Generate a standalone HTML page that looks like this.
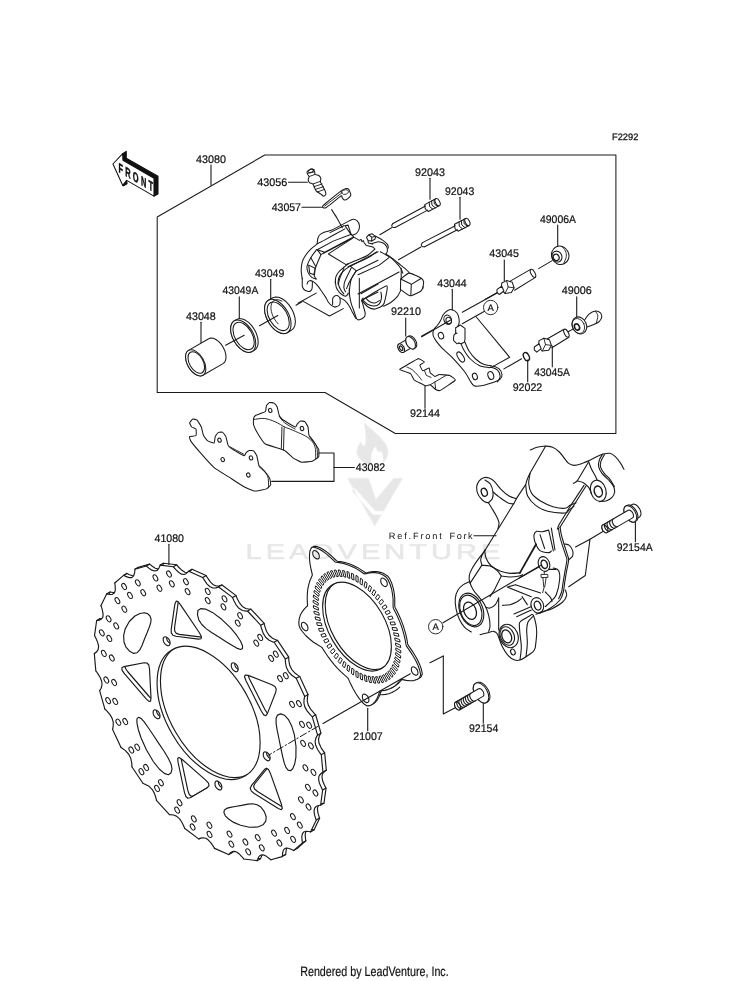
<!DOCTYPE html>
<html><head><meta charset="utf-8"><title>F2292</title>
<style>
html,body{margin:0;padding:0;background:#fff;}
svg{display:block;will-change:transform}
text{text-rendering:geometricPrecision}
.lb{font-family:"Liberation Sans",sans-serif;font-size:11px;fill:#111;stroke:#111;stroke-width:0.22}
.lb2{font-family:"Liberation Sans",sans-serif;font-size:9.3px;fill:#111;stroke:#111;stroke-width:0.25}
.mono{font-family:"Liberation Sans",sans-serif;font-size:9.2px;fill:#111;stroke:none}
.ft{font-family:"Liberation Sans",sans-serif;font-size:13.6px;fill:#111;stroke:#111;stroke-width:0.2}
</style></head><body>
<svg width="750" height="981" viewBox="0 0 750 981" fill="none" stroke="#1a1a1a" stroke-linecap="round" stroke-linejoin="round">
<rect x="0" y="0" width="750" height="981" fill="#fff" stroke="none"/>
<path d="M264.8,155.0 L615.9,155.0 L615.9,433.5 L395.3,433.5 L325.0,392.5 L157.2,392.5 L157.2,217.0 Z" fill="none" stroke-width="1.05" />
<text class="lb2" x="612.0" y="139.9" textLength="26.3" lengthAdjust="spacingAndGlyphs">F2292</text>
<text class="lb" x="196.0" y="162.7" textLength="30.0" lengthAdjust="spacingAndGlyphs">43080</text>
<line x1="211.0" y1="165.0" x2="211.0" y2="185.0" stroke-width="1.1" />
<text class="lb" x="257.3" y="186.0" textLength="30.0" lengthAdjust="spacingAndGlyphs">43056</text>
<line x1="288.5" y1="182.3" x2="307.3" y2="182.3" stroke-width="1.1" />
<text class="lb" x="271.7" y="211.0" textLength="29.3" lengthAdjust="spacingAndGlyphs">43057</text>
<line x1="302.0" y1="207.3" x2="324.0" y2="207.3" stroke-width="1.1" />
<text class="lb" x="255.0" y="276.7" textLength="29.3" lengthAdjust="spacingAndGlyphs">43049</text>
<line x1="270.7" y1="279.3" x2="270.7" y2="300.7" stroke-width="1.1" />
<text class="lb" x="222.6" y="294.2" textLength="35.7" lengthAdjust="spacingAndGlyphs">43049A</text>
<line x1="239.3" y1="296.7" x2="239.3" y2="319.3" stroke-width="1.1" />
<text class="lb" x="186.0" y="320.0" textLength="29.7" lengthAdjust="spacingAndGlyphs">43048</text>
<line x1="201.0" y1="322.3" x2="201.0" y2="345.0" stroke-width="1.1" />
<text class="lb" x="391.0" y="315.3" textLength="30.0" lengthAdjust="spacingAndGlyphs">92210</text>
<line x1="405.7" y1="318.0" x2="405.7" y2="336.0" stroke-width="1.1" />
<text class="lb" x="415.0" y="176.0" textLength="30.0" lengthAdjust="spacingAndGlyphs">92043</text>
<line x1="430.0" y1="178.3" x2="430.0" y2="199.3" stroke-width="1.1" />
<text class="lb" x="445.0" y="195.0" textLength="29.3" lengthAdjust="spacingAndGlyphs">92043</text>
<line x1="460.0" y1="197.3" x2="460.0" y2="219.3" stroke-width="1.1" />
<text class="lb" x="540.0" y="222.7" textLength="36.0" lengthAdjust="spacingAndGlyphs">49006A</text>
<line x1="557.7" y1="225.0" x2="557.7" y2="246.7" stroke-width="1.1" />
<text class="lb" x="489.3" y="257.3" textLength="29.7" lengthAdjust="spacingAndGlyphs">43045</text>
<line x1="504.3" y1="260.0" x2="504.3" y2="280.7" stroke-width="1.1" />
<text class="lb" x="437.3" y="286.7" textLength="29.4" lengthAdjust="spacingAndGlyphs">43044</text>
<line x1="452.3" y1="289.3" x2="452.3" y2="310.0" stroke-width="1.1" />
<text class="lb" x="561.7" y="294.3" textLength="30.0" lengthAdjust="spacingAndGlyphs">49006</text>
<line x1="576.7" y1="296.7" x2="576.7" y2="319.0" stroke-width="1.1" />
<text class="lb" x="534.3" y="375.7" textLength="35.7" lengthAdjust="spacingAndGlyphs">43045A</text>
<line x1="552.3" y1="346.0" x2="552.3" y2="366.7" stroke-width="1.1" />
<text class="lb" x="512.7" y="390.7" textLength="29.6" lengthAdjust="spacingAndGlyphs">92022</text>
<line x1="527.7" y1="360.0" x2="527.7" y2="381.7" stroke-width="1.1" />
<text class="lb" x="410.0" y="417.3" textLength="30.0" lengthAdjust="spacingAndGlyphs">92144</text>
<line x1="425.0" y1="385.0" x2="425.0" y2="408.3" stroke-width="1.1" />
<text class="lb" x="355.8" y="471.3" textLength="29.4" lengthAdjust="spacingAndGlyphs">43082</text>
<text class="lb" x="154.6" y="541.9" textLength="29.4" lengthAdjust="spacingAndGlyphs">41080</text>
<text class="lb" x="353.3" y="740.0" textLength="29.4" lengthAdjust="spacingAndGlyphs">21007</text>
<line x1="367.7" y1="708.3" x2="367.7" y2="730.7" stroke-width="1.1" />
<text class="lb" x="469.0" y="732.3" textLength="29.3" lengthAdjust="spacingAndGlyphs">92154</text>
<line x1="483.3" y1="701.7" x2="483.3" y2="723.3" stroke-width="1.1" />
<text class="lb" x="616.7" y="550.7" textLength="36.0" lengthAdjust="spacingAndGlyphs">92154A</text>
<line x1="635.4" y1="521.5" x2="635.4" y2="541.7" stroke-width="1.1" />
<text class="mono" x="388.8" y="538.9" textLength="53.0" lengthAdjust="spacing">Ref.Front</text>
<text class="mono" x="449.6" y="538.9" textLength="23.0" lengthAdjust="spacing">Fork</text>
<line x1="474.0" y1="535.7" x2="496.0" y2="535.7" stroke-width="1.1" />
<circle cx="490.7" cy="307.5" r="7.2" fill="#fff" stroke-width="0.9"/>
<text class="lb" x="490.7" y="310.9" text-anchor="middle" style="font-size:9.5px">A</text>
<circle cx="435.7" cy="626.7" r="7.2" fill="#fff" stroke-width="0.9"/>
<text class="lb" x="435.7" y="630.1" text-anchor="middle" style="font-size:9.5px">A</text>
<text class="ft" x="300.2" y="976.2" textLength="148.5" lengthAdjust="spacingAndGlyphs">Rendered by LeadVenture, Inc.</text>
<g transform="translate(100,140) scale(0.13333)" stroke-width="8">
<path d="M170,103 L197,85 L197,137 L435,272 L435,405 L405,421 L405,287 L172,152 Z" fill="#111" stroke="#111"/>
<path d="M170,340 L200,303 L203,328 L176,344 Z" fill="#111" stroke="#111"/>
<path d="M97,180 L170,103 L172,152 L405,287 L405,421 L200,303 L170,340 Z" fill="#fff" stroke="#111"/>
</g>
<g transform="translate(118.4,171.9) skewY(30)"><text x="0" y="0" textLength="63" lengthAdjust="spacing" style="font-family:'Liberation Sans',sans-serif;font-weight:bold;font-size:13.5px;fill:#111;stroke:#111;stroke-width:0.5" transform="scale(0.55,1)">FRONT</text></g>
<g stroke-width="1.15">
<path d="M322.3,774.6 L322,777.2 322.7,781 324.4,784.9 326,788.3 324,803.1 322.3,803.5 319.8,804.3 318,806.1 317.4,809.1 318,813.2 319.6,818.3 314,829.9 312.1,829.6 309.2,829.3 307.1,830 305.7,832 305.2,834.7 305.4,837.6 305.8,840.9 297.1,848.5 295,847.6 292.5,846.5 290.4,846 288.4,846.4 286.9,847.9 286.1,850.5 285.7,854.1 285.6,854.7 274.3,857.8 272.3,856.3 269.8,854.4 267.6,853.2 265.3,852.8 263.4,853.5 261.9,855.3 260.7,858.3 260.4,858.7 247.4,857.1 244.9,854.4 242.6,852 240,850.1 237.7,849.4 235.5,849.7 233.5,851.1 231.9,852.6 218,846.4 215.9,843.2 213.9,840.4 211.5,837.9 209.1,836.3 206.7,835.8 204.1,836.2 202,836.9 188.2,826.5 186.6,823.1 185.1,820 183,816.9 180.2,814.4 177.1,813.1 173.4,812.7 172.8,812.6 160,798.7 159.1,795.3 157.8,791.4 155.7,787.6 152.5,784.4 148.3,782.2 146.3,781.3 135.4,765 135.1,760.9 134.2,756.6 132.1,752.3 128.8,748.7 124.9,745.8 124.3,745.3 116,727.5 116.6,724 116.6,720.1 115.5,716.4 113.4,712.7 110.1,708.9 108.2,706.9 103.1,688.9 104.5,686.3 105.4,683 105.1,679.5 103.6,675.6 100.9,671.2 99.2,668.8 97.7,651.9 99.8,650.1 101.5,647.7 102,644.7 101.2,640.9 99.2,636.1 97.9,633.6 100,618.8 102.7,618.2 104.9,617.1 106.3,614.9 106.5,612.2 105.5,607.1 104.4,603.6 110,592 113.1,592.5 115.7,592.4 117.7,591.1 118.7,588.4 118.5,583.5 118.2,581 126.9,573.4 129.6,574.7 132.6,575.7 135.2,575.7 137,574 138,570.8 138.4,567.2 149.6,564.1 152.3,566.2 155.3,568.2 158.2,569.1 160.6,568.4 162.3,566.1 163.6,563.2 176.6,564.8 179,567.5 181.9,570.3 184.9,572.2 187.6,572.5 189.7,571.5 192.1,569.3 206,575.5 208.1,578.7 210.5,582.1 213.4,584.8 216.3,586 219.3,585.9 222,585 235.8,595.4 237.3,598.8 239.3,602.6 242.3,606.4 245.8,608.5 249.9,609.2 251.1,609.3 264,623.2 264.9,626.6 266.5,631.2 269,635.3 272.5,638.3 276.3,640 277.7,640.6 288.6,656.9 288.9,661 289.7,665.3 291.8,669.6 295.2,673.3 299.1,676.1 299.7,676.6 308,694.4 307.4,697.9 307.3,701.2 308.2,704.9 310.6,709.2 314.5,713.7 315.7,715 320.9,733 319.4,735.7 318.5,739.5 319,743.1 321.1,747.8 324.3,752.4 324.7,753.1 326.3,770 324.2,771.8 322.9,773.3Z" fill="#fff"/>
<path d="M160.0,565.1 L163.4,563.2 M173.4,566.8 L176.8,564.8 M188.5,571.2 L191.9,569.2 M202.8,577.5 L206.2,575.6 M218.4,586.8 L221.8,584.9 M232.6,597.5 L236.0,595.5 M247.6,611.1 L250.9,609.1 M260.8,625.3 L264.1,623.4 M274.1,642.3 L277.5,640.3 M285.4,659.1 L288.7,657.2 M296.2,678.3 L299.6,676.4 M304.7,696.6 L308.1,694.6 M312.3,716.7 L315.7,714.7 M317.5,735.2 L320.9,733.2 M321.3,754.8 L324.7,752.8 M322.9,772.2 L326.3,770.3 M322.7,790.1 L326.0,788.1 M320.5,805.2 L323.9,803.3 M316.3,820.1 L319.6,818.1 M310.5,832.0 L313.9,830.0 M302.5,842.7 L305.9,840.8 M293.5,850.6 L296.9,848.6 M282.3,856.6 L285.7,854.6 M270.8,859.8 L274.2,857.9 M257.2,860.7 L260.5,858.7 M243.8,859.0 L247.2,857.1 M228.7,854.6 L232.1,852.7 M214.4,848.3 L217.8,846.3 M198.8,839.0 L202.2,837.0 M184.6,828.3 L188.0,826.4 M169.6,814.7 L173.0,812.8 M156.4,800.5 L159.8,798.5 M143.1,783.5 L146.5,781.6 M131.8,766.7 L135.2,764.7 M121.0,747.5 L124.4,745.5 M112.5,729.2 L115.9,727.3 M104.9,709.1 L108.3,707.2 M99.7,690.6 L103.0,688.7 M95.9,671.0 L99.3,669.1 M94.3,653.6 L97.6,651.6 M94.5,635.7 L97.9,633.8 M96.7,620.6 L100.0,618.6 M100.9,605.7 L104.3,603.8 M106.7,593.8 L110.1,591.9 M114.7,583.1 L118.1,581.1 M123.7,575.2 L127.0,573.3 M134.9,569.2 L138.2,567.3 M146.4,566.0 L149.8,564.0"/>
<g transform="translate(-3.38,1.95)"><path d="M322.3,774.6 L322,777.2 322.7,781 324.4,784.9 326,788.3 324,803.1 322.3,803.5 319.8,804.3 318,806.1 317.4,809.1 318,813.2 319.6,818.3 314,829.9 312.1,829.6 309.2,829.3 307.1,830 305.7,832 305.2,834.7 305.4,837.6 305.8,840.9 297.1,848.5 295,847.6 292.5,846.5 290.4,846 288.4,846.4 286.9,847.9 286.1,850.5 285.7,854.1 285.6,854.7 274.3,857.8 272.3,856.3 269.8,854.4 267.6,853.2 265.3,852.8 263.4,853.5 261.9,855.3 260.7,858.3 260.4,858.7 247.4,857.1 244.9,854.4 242.6,852 240,850.1 237.7,849.4 235.5,849.7 233.5,851.1 231.9,852.6 218,846.4 215.9,843.2 213.9,840.4 211.5,837.9 209.1,836.3 206.7,835.8 204.1,836.2 202,836.9 188.2,826.5 186.6,823.1 185.1,820 183,816.9 180.2,814.4 177.1,813.1 173.4,812.7 172.8,812.6 160,798.7 159.1,795.3 157.8,791.4 155.7,787.6 152.5,784.4 148.3,782.2 146.3,781.3 135.4,765 135.1,760.9 134.2,756.6 132.1,752.3 128.8,748.7 124.9,745.8 124.3,745.3 116,727.5 116.6,724 116.6,720.1 115.5,716.4 113.4,712.7 110.1,708.9 108.2,706.9 103.1,688.9 104.5,686.3 105.4,683 105.1,679.5 103.6,675.6 100.9,671.2 99.2,668.8 97.7,651.9 99.8,650.1 101.5,647.7 102,644.7 101.2,640.9 99.2,636.1 97.9,633.6 100,618.8 102.7,618.2 104.9,617.1 106.3,614.9 106.5,612.2 105.5,607.1 104.4,603.6 110,592 113.1,592.5 115.7,592.4 117.7,591.1 118.7,588.4 118.5,583.5 118.2,581 126.9,573.4 129.6,574.7 132.6,575.7 135.2,575.7 137,574 138,570.8 138.4,567.2 149.6,564.1 152.3,566.2 155.3,568.2 158.2,569.1 160.6,568.4 162.3,566.1 163.6,563.2 176.6,564.8 179,567.5 181.9,570.3 184.9,572.2 187.6,572.5 189.7,571.5 192.1,569.3 206,575.5 208.1,578.7 210.5,582.1 213.4,584.8 216.3,586 219.3,585.9 222,585 235.8,595.4 237.3,598.8 239.3,602.6 242.3,606.4 245.8,608.5 249.9,609.2 251.1,609.3 264,623.2 264.9,626.6 266.5,631.2 269,635.3 272.5,638.3 276.3,640 277.7,640.6 288.6,656.9 288.9,661 289.7,665.3 291.8,669.6 295.2,673.3 299.1,676.1 299.7,676.6 308,694.4 307.4,697.9 307.3,701.2 308.2,704.9 310.6,709.2 314.5,713.7 315.7,715 320.9,733 319.4,735.7 318.5,739.5 319,743.1 321.1,747.8 324.3,752.4 324.7,753.1 326.3,770 324.2,771.8 322.9,773.3Z" fill="#fff"/></g>
<defs>
<marker id="hm" markerUnits="userSpaceOnUse" markerWidth="10" markerHeight="10" refX="7.38" refY="6.37" overflow="visible"><ellipse cx="5" cy="5" rx="1.95" ry="3.36" transform="rotate(-30 5 5)" fill="#fff" stroke="#1a1a1a" stroke-width="1"/></marker>
<clipPath id="dc1"><path d="M260.13,742.65 C260.13,775.51 237.06,788.83 208.60,772.40 C180.14,755.97 157.07,716.01 157.07,683.15 C157.07,650.29 180.14,636.97 208.60,653.40 C237.06,669.83 260.13,709.79 260.13,742.65Z"/></clipPath>
<clipPath id="dc2"><path d="M170.11,643.24 C170.11,645.45 168.56,646.35 166.65,645.24 C164.74,644.14 163.18,641.45 163.18,639.24 C163.18,637.03 164.74,636.14 166.65,637.24 C168.56,638.35 170.11,641.03 170.11,643.24Z"/></clipPath>
<clipPath id="dc3"><path d="M180.4,604.6 L178,601.6 176.3,601 174.9,603.9 171.2,629.3 171.3,632.9 172.9,635.3 175.9,636.3 198.5,639.1 201.1,638.7 201.4,636.6 199.4,632.8z"/></clipPath>
<clipPath id="dc5"><path d="M238.17,669.24 C238.17,671.45 236.62,672.35 234.71,671.24 C232.79,670.14 231.24,667.45 231.24,665.24 C231.24,663.03 232.79,662.14 234.71,663.24 C236.62,664.35 238.17,667.03 238.17,669.24Z"/></clipPath>
<clipPath id="dc6"><path d="M275.7,692.2 L276.2,689.1 274.9,686.6 271.9,684.7 248.1,675.4 245.2,675 244.5,676.8 246,680.7 261.4,711.3 263.8,714.9 265.8,715.7 267.4,713.6z"/></clipPath>
<clipPath id="dc8"><path d="M270.15,758.34 C270.15,760.55 268.60,761.45 266.69,760.34 C264.77,759.24 263.22,756.55 263.22,754.34 C263.22,752.13 264.77,751.24 266.69,752.34 C268.60,753.45 270.15,756.13 270.15,758.34Z"/></clipPath>
<clipPath id="dc9"><path d="M278.3,808.5 L281.3,809.7 282.3,808.3 281.5,804.5 270.4,773.4 268.5,769.5 266.5,768.2 264.4,769.6 251.4,785.7 250.2,788.3 251.2,790.9 254.2,793.5z"/></clipPath>
<clipPath id="dc11"><path d="M221.86,787.40 C221.86,789.61 220.31,790.51 218.39,789.40 C216.48,788.30 214.93,785.61 214.93,783.40 C214.93,781.19 216.48,780.30 218.39,781.40 C220.31,782.51 221.86,785.19 221.86,787.40Z"/></clipPath>
<clipPath id="dc12"><path d="M184.5,792.6 L185.9,796.5 187.8,798.2 190.3,797.7 207.3,787.7 209,785.8 208.5,783.2 205.7,780.1 182.2,759.5 179.1,757.5 177.7,758.3 178,762z"/></clipPath>
<clipPath id="dc14"><path d="M160.03,716.27 C160.03,718.48 158.48,719.37 156.57,718.27 C154.65,717.16 153.10,714.48 153.10,712.27 C153.10,710.06 154.65,709.16 156.57,710.27 C158.48,711.37 160.03,714.06 160.03,716.27Z"/></clipPath>
<clipPath id="dc15"><path d="M124.1,666.6 L121.9,667.8 122,670.2 124.4,673.7 146,698.7 148.9,701.4 150.6,701.1 151,697.8 149.5,668.9 148.8,665 147,663 144.1,662.7z"/></clipPath>
</defs>
<path d="M260.13,742.65 C260.13,775.51 237.06,788.83 208.60,772.40 C180.14,755.97 157.07,716.01 157.07,683.15 C157.07,650.29 180.14,636.97 208.60,653.40 C237.06,669.83 260.13,709.79 260.13,742.65Z" fill="#fff"/>
<path d="M263.51,740.70 C263.51,773.56 240.44,786.88 211.98,770.45 C183.52,754.02 160.45,714.06 160.45,681.20 C160.45,648.34 183.52,635.02 211.98,651.45 C240.44,667.88 263.51,707.84 263.51,740.70Z" clip-path="url(#dc1)"/>
<path d="M170.11,643.24 C170.11,645.45 168.56,646.35 166.65,645.24 C164.74,644.14 163.18,641.45 163.18,639.24 C163.18,637.03 164.74,636.14 166.65,637.24 C168.56,638.35 170.11,641.03 170.11,643.24Z" fill="#fff"/>
<path d="M173.49,641.29 C173.49,643.50 171.94,644.40 170.03,643.29 C168.11,642.19 166.56,639.50 166.56,637.29 C166.56,635.08 168.11,634.19 170.03,635.29 C171.94,636.40 173.49,639.08 173.49,641.29Z" clip-path="url(#dc2)"/>
<path d="M180.4,604.6 L178,601.6 176.3,601 174.9,603.9 171.2,629.3 171.3,632.9 172.9,635.3 175.9,636.3 198.5,639.1 201.1,638.7 201.4,636.6 199.4,632.8z" fill="#fff"/>
<g clip-path="url(#dc3)"><path transform="translate(3.38,-1.95)" d="M180.4,604.6 L178,601.6 176.3,601 174.9,603.9 171.2,629.3 171.3,632.9 172.9,635.3 175.9,636.3 198.5,639.1 201.1,638.7 201.4,636.6 199.4,632.8z"/></g>
<path d="M150,616 L147.6,613.6 144.3,612.8 139.9,613.5 134.9,616 129.3,621.5 125.2,628.9 123.6,635.7 124,642 126,647.2 129.7,651.3 133.7,653.4 136.9,652.8 139.6,650.2 141.9,645.7 144.5,639 147.3,632.3 149.3,627.1 150.7,622.8 151.1,619.2z" fill="#fff"/>
<path d="M238.17,669.24 C238.17,671.45 236.62,672.35 234.71,671.24 C232.79,670.14 231.24,667.45 231.24,665.24 C231.24,663.03 232.79,662.14 234.71,663.24 C236.62,664.35 238.17,667.03 238.17,669.24Z" fill="#fff"/>
<path d="M241.55,667.29 C241.55,669.50 240.00,670.40 238.08,669.29 C236.17,668.19 234.62,665.50 234.62,663.29 C234.62,661.08 236.17,660.19 238.08,661.29 C240.00,662.40 241.55,665.08 241.55,667.29Z" clip-path="url(#dc5)"/>
<path d="M275.7,692.2 L276.2,689.1 274.9,686.6 271.9,684.7 248.1,675.4 245.2,675 244.5,676.8 246,680.7 261.4,711.3 263.8,714.9 265.8,715.7 267.4,713.6z" fill="#fff"/>
<g clip-path="url(#dc6)"><path transform="translate(3.38,-1.95)" d="M275.7,692.2 L276.2,689.1 274.9,686.6 271.9,684.7 248.1,675.4 245.2,675 244.5,676.8 246,680.7 261.4,711.3 263.8,714.9 265.8,715.7 267.4,713.6z"/></g>
<path d="M242.5,648.6 L242.5,645.7 240.6,641.3 236.6,635.2 230.6,627.9 221.7,619.3 212.4,612.4 205.5,609.1 200.6,608.6 197.9,610.5 197.5,614.9 198.9,620.1 201.8,624.5 206.1,628.6 211.6,632.5 219.2,637.2 226.9,642.2 232.8,645.8 237.4,648.4 240.6,649.5z" fill="#fff"/>
<path d="M270.15,758.34 C270.15,760.55 268.60,761.45 266.69,760.34 C264.77,759.24 263.22,756.55 263.22,754.34 C263.22,752.13 264.77,751.24 266.69,752.34 C268.60,753.45 270.15,756.13 270.15,758.34Z" fill="#fff"/>
<path d="M273.53,756.39 C273.53,758.60 271.98,759.50 270.06,758.39 C268.15,757.29 266.60,754.60 266.60,752.39 C266.60,750.18 268.15,749.29 270.06,750.39 C271.98,751.50 273.53,754.18 273.53,756.39Z" clip-path="url(#dc8)"/>
<path d="M278.3,808.5 L281.3,809.7 282.3,808.3 281.5,804.5 270.4,773.4 268.5,769.5 266.5,768.2 264.4,769.6 251.4,785.7 250.2,788.3 251.2,790.9 254.2,793.5z" fill="#fff"/>
<g clip-path="url(#dc9)"><path transform="translate(3.38,-1.95)" d="M278.3,808.5 L281.3,809.7 282.3,808.3 281.5,804.5 270.4,773.4 268.5,769.5 266.5,768.2 264.4,769.6 251.4,785.7 250.2,788.3 251.2,790.9 254.2,793.5z"/></g>
<path d="M288.1,770.1 L290.5,770.7 292.7,768.7 294.6,764.3 295.9,757.3 296,746.5 294.4,734.8 291.7,725.9 288.3,719.3 284.6,715.3 280.6,713.9 277.5,715.1 276.1,718.3 276.1,723.5 277.2,730.4 279.2,740 281.2,749.8 282.8,757.2 284.3,763.1 285.9,767.4z" fill="#fff"/>
<path d="M221.86,787.40 C221.86,789.61 220.31,790.51 218.39,789.40 C216.48,788.30 214.93,785.61 214.93,783.40 C214.93,781.19 216.48,780.30 218.39,781.40 C220.31,782.51 221.86,785.19 221.86,787.40Z" fill="#fff"/>
<path d="M225.23,785.45 C225.23,787.66 223.68,788.56 221.77,787.45 C219.86,786.35 218.31,783.66 218.31,781.45 C218.31,779.24 219.86,778.35 221.77,779.45 C223.68,780.56 225.23,783.24 225.23,785.45Z" clip-path="url(#dc11)"/>
<path d="M184.5,792.6 L185.9,796.5 187.8,798.2 190.3,797.7 207.3,787.7 209,785.8 208.5,783.2 205.7,780.1 182.2,759.5 179.1,757.5 177.7,758.3 178,762z" fill="#fff"/>
<g clip-path="url(#dc12)"><path transform="translate(3.38,-1.95)" d="M184.5,792.6 L185.9,796.5 187.8,798.2 190.3,797.7 207.3,787.7 209,785.8 208.5,783.2 205.7,780.1 182.2,759.5 179.1,757.5 177.7,758.3 178,762z"/></g>
<path d="M223.9,812.5 L225.3,815.8 228.6,819 233.7,822.4 240.5,825.3 249.5,827.3 257.9,827 263,824.8 265.8,821.2 266.2,816.8 264.3,811.6 260.9,807.1 257.1,804.7 252.8,803.8 248,804.1 241.7,805.4 235.2,806.5 230.3,807.4 226.6,808.4 224.4,809.9z" fill="#fff"/>
<path d="M160.03,716.27 C160.03,718.48 158.48,719.37 156.57,718.27 C154.65,717.16 153.10,714.48 153.10,712.27 C153.10,710.06 154.65,709.16 156.57,710.27 C158.48,711.37 160.03,714.06 160.03,716.27Z" fill="#fff"/>
<path d="M163.41,714.32 C163.41,716.53 161.86,717.42 159.94,716.32 C158.03,715.21 156.48,712.53 156.48,710.32 C156.48,708.11 158.03,707.21 159.94,708.32 C161.86,709.42 163.41,712.11 163.41,714.32Z" clip-path="url(#dc14)"/>
<path d="M124.1,666.6 L121.9,667.8 122,670.2 124.4,673.7 146,698.7 148.9,701.4 150.6,701.1 151,697.8 149.5,668.9 148.8,665 147,663 144.1,662.7z" fill="#fff"/>
<g clip-path="url(#dc15)"><path transform="translate(3.38,-1.95)" d="M124.1,666.6 L121.9,667.8 122,670.2 124.4,673.7 146,698.7 148.9,701.4 150.6,701.1 151,697.8 149.5,668.9 148.8,665 147,663 144.1,662.7z"/></g>
<path d="M138.5,717.3 L137,718.7 136.9,722.7 138.2,729.2 141.1,738 146.5,750 153.3,761.5 159.2,769 164.3,773.4 168.3,774.7 171,772.9 172,769 171.1,764.2 168.4,758.5 164.4,751.8 158.4,742.9 152.4,733.8 147.8,727 144,721.7 141,718.4z" fill="#fff"/>
<path fill="none" stroke="none" marker-start="url(#hm)" marker-mid="url(#hm)" marker-end="url(#hm)" d="M171.4,575.4 L174.2,585.2 157.8,579.3 161.8,589.6 140.2,584.2 145.6,594.1 226.9,600.2 225.8,608.2 210.1,592.8 210.1,602 188.3,583.1 190,593 278.2,655.5 273.5,659.7 262.6,638.8 258.7,644.5 242.5,617.1 240.1,624.5 311.5,726.6 304.4,725.7 301.3,705 294.4,705.7 288.2,677.1 282.4,680 317.8,794.4 310.3,788.7 315.8,773.7 307.8,769.2 313.3,747.2 305.5,744.7 295.5,840.7 289.5,831.8 302.2,826.5 295.3,818 310.9,808.4 303.3,801.2 250.6,853.2 247.8,843.4 264.2,849.2 260.1,839 281.8,844.4 276.4,834.5 195,828.4 196.2,820.3 211.9,835.8 211.8,826.6 233.7,845.5 231.9,835.5 143.8,773.1 148.5,768.9 159.4,789.8 163.3,784.1 179.5,811.5 181.9,804.1 110.5,702 117.6,702.8 120.7,723.6 127.6,722.9 133.7,751.4 139.6,748.6 104.2,634.2 111.7,639.8 106.2,654.8 114.2,659.4 108.7,681.4 116.5,683.9 126.5,587.9 132.4,596.8 119.8,602 126.7,610.6 111,620.2 118.6,627.3"/>
</g>
<line x1="168.9" y1="544.3" x2="168.9" y2="564.5" stroke-width="1.1" />
<g stroke-width="1.10">
<path d="M399.7,687.1 L397.3,689.3 394.7,691.1 391.8,692.6 388.8,693.7 385.6,694.4 382.2,694.8 378.7,694.7 375.1,694.4"/>
<g transform="translate(1.65,-0.95)"><path d="M415.7,660.5 L418.1,665.6 419.8,670.5 420.7,675 419.3,677.9 416.8,679.6 413.7,680.6 410.1,680.8 406.3,680.4 402.5,679.6 401.3,679.4 400.6,679.6 399.2,681.5 397.3,683.7 395.2,685.6 392.8,687.2 390.3,688.6 387.7,689.6 384.9,690.4 381.9,690.8 380.4,690.9 379.8,691.3 378.5,694.9 377,698.5 375.1,701.6 372.8,704 370.1,705.6 367.1,705.9 364.8,704.6 362.5,702.5 359.1,698.4 356,693.8 353.1,688.8 350.5,683.6 348.3,678.6 347.5,677.6 344.1,674.7 340.8,671.6 337.5,668.3 334.4,664.8 331.4,661.1 328.4,657.2 325.7,653.2 323,649.1 322.4,648 321.5,647.1 317.6,644.8 313.5,642.2 309.5,639 305.7,635.5 302.3,631.5 300.4,628.7 299.1,625.8 298.8,622.9 299.2,618.9 300.3,615.1 302.1,611.9 304.2,609.1 306.6,606.7 307.3,606 307.6,605.1 307.3,601.9 307.2,597.9 307.4,593 307.8,589.2 308.7,584.8 309.9,580.7 311.5,577 312.2,575.6 312.3,574.5 311.1,569.5 310.1,564.4 309.5,559.3 309.5,554.7 310,550.7 311.4,547.7 312.2,547.2 314.4,547.3 318,548.5 322,550.7 326,553.6 330,557.1 333.8,560.7 335,561.9 336,562.3 339.2,562.6 343.3,563.4 347.5,564.7 351.8,566.4 356.1,568.6 360.5,571.3 363.9,573.7 364.9,573.9 368,573.1 371.5,572.6 375.1,572.6 378.9,573.3 382.7,574.8 386.3,577.2 388.1,579.8 390.2,584.5 391.7,589.5 392.6,594.6 393.1,599.5 393.1,604.3 393.1,607.2 393.4,608.4 395.7,612.8 397.8,617.2 399.7,621.6 401.4,626.1 402.8,630.6 404.1,635.1 405.1,639.5 405.9,643.9 406,644.9 406.5,646.1 409.7,650.6 412.8,655.5z" fill="#fff"/></g>
<path d="M415.7,660.5 L418.1,665.6 419.8,670.5 420.7,675 419.3,677.9 416.8,679.6 413.7,680.6 410.1,680.8 406.3,680.4 402.5,679.6 401.3,679.4 400.6,679.6 399.2,681.5 397.3,683.7 395.2,685.6 392.8,687.2 390.3,688.6 387.7,689.6 384.9,690.4 381.9,690.8 380.4,690.9 379.8,691.3 378.5,694.9 377,698.5 375.1,701.6 372.8,704 370.1,705.6 367.1,705.9 364.8,704.6 362.5,702.5 359.1,698.4 356,693.8 353.1,688.8 350.5,683.6 348.3,678.6 347.5,677.6 344.1,674.7 340.8,671.6 337.5,668.3 334.4,664.8 331.4,661.1 328.4,657.2 325.7,653.2 323,649.1 322.4,648 321.5,647.1 317.6,644.8 313.5,642.2 309.5,639 305.7,635.5 302.3,631.5 300.4,628.7 299.1,625.8 298.8,622.9 299.2,618.9 300.3,615.1 302.1,611.9 304.2,609.1 306.6,606.7 307.3,606 307.6,605.1 307.3,601.9 307.2,597.9 307.4,593 307.8,589.2 308.7,584.8 309.9,580.7 311.5,577 312.2,575.6 312.3,574.5 311.1,569.5 310.1,564.4 309.5,559.3 309.5,554.7 310,550.7 311.4,547.7 312.2,547.2 314.4,547.3 318,548.5 322,550.7 326,553.6 330,557.1 333.8,560.7 335,561.9 336,562.3 339.2,562.6 343.3,563.4 347.5,564.7 351.8,566.4 356.1,568.6 360.5,571.3 363.9,573.7 364.9,573.9 368,573.1 371.5,572.6 375.1,572.6 378.9,573.3 382.7,574.8 386.3,577.2 388.1,579.8 390.2,584.5 391.7,589.5 392.6,594.6 393.1,599.5 393.1,604.3 393.1,607.2 393.4,608.4 395.7,612.8 397.8,617.2 399.7,621.6 401.4,626.1 402.8,630.6 404.1,635.1 405.1,639.5 405.9,643.9 406,644.9 406.5,646.1 409.7,650.6 412.8,655.5z" fill="#fff"/>
<defs><clipPath id="rc0"><path d="M391.38,646.45 C391.38,668.38 375.99,677.26 357.00,666.30 C338.01,655.34 322.62,628.68 322.62,606.75 C322.62,584.82 338.01,575.94 357.00,586.90 C375.99,597.86 391.38,624.52 391.38,646.45Z"/></clipPath></defs>
<path d="M391.38,646.45 C391.38,668.38 375.99,677.26 357.00,666.30 C338.01,655.34 322.62,628.68 322.62,606.75 C322.62,584.82 338.01,575.94 357.00,586.90 C375.99,597.86 391.38,624.52 391.38,646.45Z" fill="#fff"/><path d="M393.98,644.95 C393.98,666.88 378.59,675.76 359.60,664.80 C340.61,653.84 325.22,627.18 325.22,605.25 C325.22,583.32 340.61,574.44 359.60,585.40 C378.59,596.36 393.98,623.02 393.98,644.95Z" clip-path="url(#rc0)"/>
<path d="M417.95,672.93 C417.95,675.03 416.47,675.88 414.66,674.83 C412.84,673.78 411.36,671.23 411.36,669.13 C411.36,667.03 412.84,666.18 414.66,667.23 C416.47,668.28 417.95,670.83 417.95,672.93Z" fill="#fff"/>
<path d="M368.93,700.25 C368.93,702.35 367.46,703.20 365.64,702.15 C363.82,701.10 362.35,698.55 362.35,696.45 C362.35,694.35 363.82,693.50 365.64,694.55 C367.46,695.60 368.93,698.15 368.93,700.25Z" fill="#fff"/>
<path d="M307.98,628.41 C307.98,630.51 306.50,631.36 304.69,630.31 C302.87,629.26 301.39,626.71 301.39,624.61 C301.39,622.52 302.87,621.66 304.69,622.71 C306.50,623.76 307.98,626.32 307.98,628.41Z" fill="#fff"/>
<path d="M319.32,556.70 C319.32,558.80 317.84,559.65 316.03,558.60 C314.21,557.55 312.74,555.00 312.74,552.90 C312.74,550.80 314.21,549.95 316.03,551.00 C317.84,552.05 319.32,554.60 319.32,556.70Z" fill="#fff"/>
<path d="M387.28,584.21 C387.28,586.31 385.81,587.16 383.99,586.11 C382.17,585.06 380.70,582.51 380.70,580.41 C380.70,578.31 382.17,577.46 383.99,578.51 C385.81,579.56 387.28,582.11 387.28,584.21Z" fill="#fff"/>
<path stroke-width="1.0" d="M396.2,648 400.8,650.7 400.8,653.1 396.2,650.5z M396.1,652.7 400.7,655.9 400.5,658.2 395.9,655z M395.6,657.1 400.1,660.8 399.6,662.9 395.1,659.3z M394.6,661.1 399,665.3 398.3,667.3 394,663.1z M393.3,664.8 397.5,669.4 396.6,671.1 392.4,666.6z M391.5,668.1 395.5,673.1 394.4,674.6 390.4,669.6z M389.4,670.9 393.1,676.2 391.8,677.4 388.1,672.2z M386.9,673.2 390.3,678.8 388.9,679.7 385.4,674.2z M384.1,675 387.1,680.8 385.5,681.5 382.4,675.8z M380.9,676.3 383.6,682.2 381.9,682.6 379.2,676.8z M377.6,677.1 379.8,683 378,683.1 375.7,677.2z M374,677.2 375.8,683.2 373.9,683 372,677.1z M370.2,676.9 371.5,682.7 369.5,682.3 368.1,676.5z M366.2,676 367.1,681.7 365.1,681 364.1,675.3z M362.2,674.5 362.6,680 360.5,679.1 360,673.5z M358.1,672.5 358.1,677.8 356,676.6 355.9,671.3z M354,670 353.5,675 351.4,673.5 351.8,668.5z M349.9,667.1 348.9,671.7 346.9,670 347.8,665.3z M345.9,663.7 344.5,667.9 342.5,665.9 343.8,661.7z M342.1,659.9 340.1,663.6 338.2,661.5 340.1,657.7z M338.3,655.7 336,658.9 334.2,656.6 336.5,653.3z M334.8,651.2 332.1,653.9 330.4,651.5 333.1,648.7z M331.6,646.4 328.5,648.5 326.9,646 330,643.8z M328.6,641.4 325.2,643 323.7,640.3 327.1,638.7z M325.9,636.3 322.2,637.2 320.9,634.5 324.6,633.5z M323.6,631 319.6,631.4 318.5,628.6 322.5,628.2z M321.6,625.7 317.4,625.4 316.6,622.7 320.7,622.9z M320,620.5 315.7,619.5 315,616.8 319.4,617.7z M318.9,615.2 314.4,613.7 313.9,611.1 318.4,612.5z M318.1,610.1 313.5,608 313.3,605.5 317.9,607.5z M317.8,605.2 313.2,602.5 313.2,600.1 317.8,602.7z M317.9,600.5 313.3,597.3 313.5,595 318.1,598.2z M318.4,596.1 313.9,592.4 314.4,590.3 318.9,593.9z M319.4,592.1 315,587.9 315.7,585.9 320,590.1z M320.7,588.4 316.6,583.8 317.4,582.1 321.6,586.6z M322.5,585.1 318.5,580.2 319.6,578.7 323.6,583.6z M324.6,582.3 320.9,577 322.2,575.8 325.9,581z M327.1,580 323.7,574.5 325.2,573.5 328.6,579z M330,578.2 326.9,572.5 328.5,571.7 331.6,577.4z M333.1,576.9 330.4,571 332.1,570.6 334.8,576.4z M336.5,576.2 334.2,570.2 336,570.1 338.3,576z M340.1,576 338.2,570 340.1,570.2 342.1,576.1z M343.8,576.3 342.5,570.5 344.5,570.9 345.9,576.8z M347.8,577.3 346.9,571.5 348.9,572.2 349.9,578z M351.8,578.7 351.4,573.2 353.5,574.1 354,579.7z M355.9,580.7 356,575.4 358.1,576.6 358.1,582z M360,583.2 360.5,578.2 362.6,579.7 362.2,584.7z M364.1,586.1 365.1,581.5 367.1,583.2 366.2,587.9z M368.1,589.5 369.5,585.4 371.5,587.3 370.2,591.5z M372,593.4 373.9,589.6 375.8,591.7 374,595.5z M375.7,597.5 378,594.3 379.8,596.6 377.6,599.9z M379.2,602 381.9,599.3 383.6,601.8 380.9,604.5z M382.4,606.8 385.5,604.7 387.1,607.2 384.1,609.4z M385.4,611.8 388.9,610.2 390.3,612.9 386.9,614.5z M388.1,616.9 391.8,616 393.1,618.7 389.4,619.7z M390.4,622.2 394.4,621.9 395.5,624.6 391.5,625z M392.4,627.5 396.6,627.8 397.5,630.5 393.3,630.3z M394,632.8 398.3,633.7 399,636.4 394.6,635.5z M395.1,638 399.6,639.5 400.1,642.1 395.6,640.7z M395.9,643.1 400.5,645.2 400.7,647.7 396.1,645.7z"/>
</g>
<line x1="410.3" y1="673.8" x2="323.0" y2="723.4" stroke-width="1.1" />
<path d="M318,726.3 L268.5,755.2" stroke-width="1.0" stroke-dasharray="7,2.5,1.5,2.5"/>
<g stroke-width="1.1" fill="none"><path d="M530.33,450.00 C531.44,449.56 534.56,448.00 537.00,447.33 C539.44,446.67 543.61,446.22 545.00,446.00 C546.61,446.22 550.33,446.33 552.67,447.33 C555.00,448.33 557.33,450.11 559.33,452.00 C561.33,453.89 563.11,456.78 564.67,458.67 C566.22,460.56 567.11,462.22 568.67,463.33 C570.22,464.44 572.00,465.22 574.00,465.33 C576.00,465.44 578.22,464.78 580.67,464.00 C583.11,463.22 586.00,461.89 588.67,460.67 C591.33,459.44 594.22,457.78 596.67,456.67 C599.11,455.56 601.11,454.56 603.33,454.00 C605.56,453.44 608.00,452.89 610.00,453.33 C612.00,453.78 613.56,455.00 615.33,456.67 C617.11,458.33 619.22,461.22 620.67,463.33 C622.11,465.44 623.44,468.33 624.00,469.33"/>
<path d="M545.40,446.40 L529.93,473.33 C529.44,474.44 527.71,478.11 527.00,480.00 C526.29,481.89 525.89,483.89 525.67,484.67 L516.33,498.67"/>
<path d="M513.67,503.73 L493.67,536.27 L486.00,548.67 L482.00,554.93"/>
<path d="M530.07,473.33 C529.84,475.11 528.47,480.67 528.73,484.00 C529.00,487.33 529.62,490.44 531.67,493.33 C533.71,496.22 537.44,499.11 541.00,501.33 C544.56,503.56 549.00,505.51 553.00,506.67 C557.00,507.82 562.17,508.49 565.00,508.27 C567.83,508.04 568.17,506.27 570.00,505.33 C571.83,504.40 575.00,503.11 576.00,502.67"/>
<path d="M525.67,484.67 C526.00,486.56 526.00,492.56 527.67,496.00 C529.33,499.44 532.33,502.78 535.67,505.33 C539.00,507.89 542.78,510.04 547.67,511.33 C552.56,512.62 561.50,513.22 565.00,513.07 C568.50,512.91 567.17,511.58 568.67,510.40 C570.17,509.22 573.11,506.73 574.00,506.00"/>
<path d="M516.33,498.67 C515.11,498.22 511.56,497.56 509.00,496.00 C506.44,494.44 503.44,491.78 501.00,489.33 C498.56,486.89 496.33,483.22 494.33,481.33 C492.33,479.44 490.78,478.60 489.00,478.00 C487.22,477.40 485.33,477.22 483.67,477.73 C482.00,478.24 480.16,479.58 479.00,481.07 C477.84,482.56 476.96,484.62 476.73,486.67 C476.51,488.71 476.96,491.33 477.67,493.33 C478.38,495.33 479.78,497.22 481.00,498.67 C482.22,500.11 483.78,501.33 485.00,502.00 C486.22,502.67 487.78,502.56 488.33,502.67"/>
<path d="M488.33,502.67 C488.89,503.56 490.33,505.78 491.67,508.00 C493.00,510.22 495.11,513.56 496.33,516.00 C497.56,518.44 498.73,520.56 499.00,522.67 C499.27,524.78 498.11,527.67 497.93,528.67"/>
<path d="M485.00,480.00 C485.89,480.67 489.00,482.00 490.33,484.00 C491.67,486.00 492.67,489.56 493.00,492.00 C493.33,494.44 493.11,496.89 492.33,498.67 C491.56,500.44 489.00,502.00 488.33,502.67"/>
<path d="M493.00,492.00 C494.11,492.89 497.22,495.56 499.67,497.33 C502.11,499.11 505.33,501.56 507.67,502.67 C510.00,503.78 512.67,503.78 513.67,504.00 L516.33,498.67"/>
<ellipse cx="484.3" cy="492.3" rx="2.9" ry="4.1" transform="rotate(-20 484.3 492.3)" stroke-width="1.3"/>
<path d="M588.67,461.73 L577.33,480.67 C577.00,480.96 576.00,481.96 575.33,482.40 C574.67,482.84 573.67,483.18 573.33,483.33"/>
<path d="M577.73,481.07 C578.67,481.33 581.51,481.62 583.33,482.67 C585.16,483.71 587.29,485.44 588.67,487.33 C590.04,489.22 591.11,492.89 591.60,494.00"/>
<path d="M588.67,461.73 C589.11,462.89 590.22,466.29 591.33,468.67 C592.44,471.04 594.40,474.18 595.33,476.00 C596.27,477.82 596.67,479.00 596.93,479.60"/>
<path d="M584.00,485.33 L570.00,506.67 L558.67,525.33 L557.33,529.07"/>
<path d="M586.00,486.00 L571.60,508.67 L560.00,527.33"/>
<path d="M602.67,454.00 C602.11,455.00 600.00,457.89 599.33,460.00 C598.67,462.11 598.22,464.44 598.67,466.67 C599.11,468.89 600.33,471.11 602.00,473.33 C603.67,475.56 606.78,477.89 608.67,480.00 C610.56,482.11 612.33,484.00 613.33,486.00 C614.33,488.00 614.89,490.11 614.67,492.00 C614.44,493.89 613.33,495.89 612.00,497.33 C610.67,498.78 608.78,499.96 606.67,500.67 C604.56,501.38 600.56,501.44 599.33,501.60"/>
<path d="M604.40,454.67 C603.82,455.78 601.56,459.22 600.93,461.33 C600.31,463.44 600.11,465.33 600.67,467.33 C601.22,469.33 602.71,471.33 604.27,473.33 C605.82,475.33 608.31,477.11 610.00,479.33 C611.69,481.56 613.67,485.44 614.40,486.67"/>
<ellipse cx="598.3" cy="490.7" rx="7.6" ry="10.8" transform="rotate(-18 598.3 490.7)"/>
<ellipse cx="598.3" cy="491.5" rx="3.9" ry="5.5" transform="rotate(-18 598.3 491.5)" stroke-width="1.5"/>
<path d="M485.33,550.00 C484.22,551.44 480.89,555.56 478.67,558.67 C476.44,561.78 473.56,565.89 472.00,568.67 C470.44,571.44 469.71,573.11 469.33,575.33 C468.96,577.56 469.07,579.56 469.73,582.00 C470.40,584.44 471.84,587.56 473.33,590.00 C474.82,592.44 477.78,595.56 478.67,596.67"/>
<path d="M482.00,555.33 C481.78,556.11 480.67,558.33 480.67,560.00 C480.67,561.67 481.78,564.44 482.00,565.33 C483.33,565.44 487.56,565.22 490.00,566.00 C492.44,566.78 494.78,568.33 496.67,570.00 C498.56,571.67 500.56,575.00 501.33,576.00 L494.00,590.67 L490.00,596.67"/>
<path d="M481.73,565.33 L470.00,583.33"/>
<path d="M484.67,550.00 C484.89,551.33 484.89,555.33 486.00,558.00 C487.11,560.67 488.89,563.78 491.33,566.00 C493.78,568.22 497.56,570.11 500.67,571.33 C503.78,572.56 506.67,573.11 510.00,573.33 C513.33,573.56 518.89,572.78 520.67,572.67"/>
<path d="M501.33,576.00 C502.78,576.16 507.00,576.93 510.00,576.93 C513.00,576.93 517.22,576.38 519.33,576.00 C521.44,575.62 522.11,574.89 522.67,574.67"/>
<path d="M519.33,573.33 L535.33,544.67 M519.33,578.00 L539.33,566.67 M520.00,573.33 L536.67,544.00"/>
<path d="M470.00,581.33 C468.89,581.89 465.33,583.22 463.33,584.67 C461.33,586.11 459.33,587.78 458.00,590.00 C456.67,592.22 455.67,594.89 455.33,598.00 C455.00,601.11 455.33,605.11 456.00,608.67 C456.67,612.22 457.89,616.22 459.33,619.33 C460.78,622.44 462.67,625.22 464.67,627.33 C466.67,629.44 470.22,631.22 471.33,632.00"/>
<ellipse cx="471.3" cy="610.0" rx="11.5" ry="17.5" transform="rotate(-22 471.3 610.0)"/>
<ellipse cx="470.8" cy="610.3" rx="10.2" ry="15.8" transform="rotate(-22 470.8 610.3)"/>
<ellipse cx="470.0" cy="610.7" rx="6.0" ry="9.0" transform="rotate(-22 470.0 610.7)" stroke-width="1.3"/>
<path d="M478.67,596.67 C479.67,598.00 483.00,601.56 484.67,604.67 C486.33,607.78 487.78,611.78 488.67,615.33 C489.56,618.89 490.00,623.33 490.00,626.00 C490.00,628.67 488.89,630.44 488.67,631.33"/>
<path d="M507.33,587.07 L531.33,596.67 M515.33,584.67 L540.67,592.93 M507.33,587.07 L515.33,584.67"/>
<path d="M502.67,605.33 C503.89,605.22 507.67,605.22 510.00,604.67 C512.33,604.11 514.78,603.00 516.67,602.00 C518.56,601.00 520.56,599.22 521.33,598.67"/>
<path d="M498.67,598.00 L498.67,630.00"/>
<path d="M498.67,598.00 C498.11,599.11 496.78,603.00 495.33,604.67 C493.89,606.33 491.56,607.56 490.00,608.00 C488.44,608.44 486.67,607.44 486.00,607.33"/>
<path d="M522.00,596.67 L527.33,604.67 M514.00,614.00 L532.67,606.00 M516.67,616.67 L531.33,610.00"/>
<path d="M560.00,526.67 C560.22,528.00 560.67,531.78 561.33,534.67 C562.00,537.56 563.00,540.67 564.00,544.00 C565.00,547.33 566.56,552.00 567.33,554.67 C568.11,557.33 568.78,557.33 568.67,560.00 C568.56,562.67 567.33,566.89 566.67,570.67 C566.00,574.44 565.22,579.11 564.67,582.67 C564.11,586.22 564.11,589.11 563.33,592.00 C562.56,594.89 562.11,597.33 560.00,600.00 C557.89,602.67 554.00,605.78 550.67,608.00 C547.33,610.22 541.78,612.44 540.00,613.33"/>
<path d="M558.40,528.00 C558.62,529.33 559.07,533.11 559.73,536.00 C560.40,538.89 561.40,542.11 562.40,545.33 C563.40,548.56 564.98,552.89 565.73,555.33 C566.49,557.78 567.04,557.44 566.93,560.00 C566.82,562.56 565.71,566.89 565.07,570.67 C564.42,574.44 563.64,579.11 563.07,582.67 C562.49,586.22 562.33,589.33 561.60,592.00 C560.87,594.67 559.16,597.56 558.67,598.67"/>
<path d="M564.67,544.00 C565.44,544.22 568.00,544.22 569.33,545.33 C570.67,546.44 572.11,548.89 572.67,550.67 C573.22,552.44 573.22,554.56 572.67,556.00 C572.11,557.44 569.89,558.78 569.33,559.33"/>
<path d="M551.33,550.93 C550.89,551.22 550.56,552.71 548.67,552.67 C546.78,552.62 542.29,552.44 540.00,550.67 C537.71,548.89 535.93,544.62 534.93,542.00 C533.93,539.38 533.71,536.71 534.00,534.93 C534.29,533.16 535.33,531.87 536.67,531.33 C538.00,530.80 540.00,531.96 542.00,531.73 C544.00,531.51 547.56,530.29 548.67,530.00 L553.33,550.93"/>
<path d="M540.00,534.67 L544.67,548.67 M551.33,528.00 L554.93,550.00"/>
<ellipse cx="544.0" cy="564.0" rx="5.6" ry="7.6" transform="rotate(-20 544.0 564.0)"/>
<ellipse cx="544.3" cy="564.3" rx="3.0" ry="4.3" transform="rotate(-20 544.3 564.3)" stroke-width="1.4"/>
<ellipse cx="537.3" cy="605.3" rx="6.2" ry="7.8" transform="rotate(-20 537.3 605.3)" fill="#fff"/>
<ellipse cx="537.6" cy="605.6" rx="3.2" ry="4.5" transform="rotate(-20 537.6 605.6)" stroke-width="1.3"/>
<path d="M541.33,574.40 L547.73,574.40 L548.00,577.33 L541.60,577.60Z M542.93,577.60 L543.73,586.67 L544.80,586.67 L546.13,577.60 M544.27,571.33 L544.27,574.00 M544.27,586.67 L542.67,592.67" stroke-width="0.9"/>
<path d="M553.33,568.00 C554.22,568.44 557.62,568.67 558.67,570.67 C559.71,572.67 560.00,576.00 559.60,580.00 C559.20,584.00 557.71,591.11 556.27,594.67 C554.82,598.22 552.76,599.33 550.93,601.33 C549.11,603.33 546.27,605.78 545.33,606.67"/>
<path d="M545.33,592.00 C546.18,592.89 549.29,595.73 550.40,597.33 C551.51,598.93 551.73,600.89 552.00,601.60 M548.67,569.33 L556.00,569.33"/>
<path d="M480.00,634.67 C481.33,634.33 485.78,633.22 488.00,632.67 C490.22,632.11 491.78,631.11 493.33,631.33 C494.89,631.56 495.89,631.56 497.33,634.00 C498.78,636.44 500.22,642.44 502.00,646.00 C503.78,649.56 505.89,653.00 508.00,655.33 C510.11,657.67 512.67,659.22 514.67,660.00 C516.67,660.78 518.11,660.56 520.00,660.00 C521.89,659.44 523.78,658.11 526.00,656.67 C528.22,655.22 531.78,652.89 533.33,651.33 C534.89,649.78 535.00,648.00 535.33,647.33 C535.56,645.11 536.56,637.78 536.67,634.00 C536.78,630.22 536.56,627.78 536.00,624.67 C535.44,621.56 534.11,617.00 533.33,615.33 C532.56,613.67 531.67,614.78 531.33,614.67"/>
<path d="M520.00,659.60 C520.22,657.56 521.33,651.60 521.33,647.33 C521.33,643.07 520.33,637.73 520.00,634.00 C519.67,630.27 519.22,627.04 519.33,624.93 C519.44,622.82 518.78,622.93 520.67,621.33 C522.56,619.73 529.00,616.33 530.67,615.33"/>
<path d="M526.00,656.67 C526.22,654.44 527.22,647.78 527.33,643.33 C527.44,638.89 526.56,633.56 526.67,630.00 C526.78,626.44 526.89,624.33 528.00,622.00 C529.11,619.67 532.44,617.00 533.33,616.00"/>
<ellipse cx="508.7" cy="636.0" rx="9.2" ry="12.0" transform="rotate(-22 508.7 636.0)"/>
<ellipse cx="507.3" cy="636.0" rx="6.8" ry="9.6" transform="rotate(-22 507.3 636.0)"/>
<ellipse cx="506.7" cy="636.4" rx="4.6" ry="6.8" transform="rotate(-22 506.7 636.4)" stroke-width="1.3"/>
<ellipse cx="512.9" cy="652.0" rx="2.2" ry="3.0" transform="rotate(-22 512.9 652.0)"/>
<path d="M565.33,590.00 C565.56,590.89 567.11,593.33 566.67,595.33 C566.22,597.33 565.11,599.78 562.67,602.00 C560.22,604.22 555.11,607.11 552.00,608.67 C548.89,610.22 546.67,610.40 544.00,611.33 C541.33,612.27 537.33,613.78 536.00,614.27"/></g>
<line x1="443.0" y1="622.8" x2="540.5" y2="565.5" stroke-width="1.1" />
<path d="M575.5,547.0 L590.0,539.3 L585.3,575.5 L568.7,586.7" fill="none" stroke-width="1.1" />
<line x1="590.0" y1="539.3" x2="602.5" y2="531.8" stroke-width="1.1" />
<line x1="430.0" y1="662.7" x2="443.3" y2="656.0" stroke-width="1.1" />
<g stroke-width="1.05" fill="none"><path d="M302.27,279.00 C302.09,277.58 301.20,273.31 301.20,270.47 C301.20,267.62 301.56,264.42 302.27,261.93 C302.98,259.44 304.04,257.67 305.47,255.53 C306.89,253.40 308.84,251.09 310.80,249.13 C312.76,247.18 316.13,244.69 317.20,243.80 C317.29,243.00 317.38,240.42 317.73,239.00 C318.09,237.58 318.36,236.33 319.33,235.27 C320.31,234.20 322.00,233.31 323.60,232.60 C325.20,231.89 327.33,231.53 328.93,231.00 C330.53,230.47 332.49,229.67 333.20,229.40 L349.20,220.87 C349.91,220.60 352.13,219.27 353.47,219.27 C354.80,219.27 356.22,219.89 357.20,220.87 C358.18,221.84 359.07,223.62 359.33,225.13 C359.60,226.64 359.33,228.51 358.80,229.93 C358.27,231.36 357.20,232.78 356.13,233.67 C355.07,234.56 353.02,235.00 352.40,235.27"/>
<path d="M344.93,225.67 L348.13,225.13 L351.33,235.05Z M317.20,243.80 L323.60,240.60 L333.20,235.27 L344.93,228.87 M330.00,232.60 L343.87,225.67"/>
<path d="M317.20,249.67 L333.20,241.13 L351.33,234.20 L353.47,236.87 L324.67,252.33Z M323.60,253.40 L351.33,238.68"/>
<path d="M353.47,236.87 L359.33,240.39 L360.93,239.32 L362.00,241.67 L363.28,240.60 L364.35,242.95 L366.27,245.40 C367.33,245.67 371.24,246.38 372.67,247.00 C374.09,247.62 374.44,248.78 374.80,249.13"/>
<path d="M353.47,237.61 L328.40,253.93 L346.00,264.60"/>
<path d="M374.80,249.13 C373.56,250.20 370.18,253.76 367.33,255.53 C364.49,257.31 361.29,258.29 357.73,259.80 C354.18,261.31 347.96,263.80 346.00,264.60"/>
<path d="M376.40,251.80 C375.07,252.78 371.33,255.98 368.40,257.67 C365.47,259.36 362.18,260.42 358.80,261.93 C355.42,263.44 349.91,265.93 348.13,266.73"/>
<path d="M316.67,249.67 C315.69,251.00 312.40,254.91 310.80,257.67 C309.20,260.42 307.51,263.71 307.07,266.20 C306.62,268.69 307.33,270.73 308.13,272.60 C308.93,274.47 310.53,276.33 311.87,277.40 C313.20,278.47 315.42,278.73 316.13,279.00"/>
<path d="M320.93,254.68 C320.13,256.60 317.29,262.86 316.13,266.20 C314.98,269.54 314.00,272.60 314.00,274.73 C314.00,276.87 315.78,278.29 316.13,279.00"/>
<path d="M317.20,249.67 L320.93,254.68 L324.67,252.33 M310.80,257.67 L315.60,266.20 M308.67,265.13 L315.07,268.33 L314.53,274.73 L309.73,273.13Z"/>
<path d="M335.33,283.27 C335.42,282.20 335.24,278.82 335.87,276.87 C336.49,274.91 337.73,273.13 339.07,271.53 C340.40,269.93 342.36,268.51 343.87,267.27 C345.38,266.02 347.42,264.60 348.13,264.07"/>
<path d="M338.00,284.33 C338.09,283.44 338.00,280.78 338.53,279.00 C339.07,277.22 339.96,275.36 341.20,273.67 C342.44,271.98 344.49,270.11 346.00,268.87 C347.51,267.62 349.56,266.64 350.27,266.20 L372.67,254.47 L378.00,251.80"/>
<path d="M350.27,266.20 L356.13,270.68 L349.20,282.20 L346.53,288.60"/>
<path d="M343.87,268.33 C343.16,270.11 340.49,276.33 339.60,279.00 C338.71,281.67 338.36,282.56 338.53,284.33 C338.71,286.11 339.78,288.07 340.67,289.67 C341.56,291.27 343.33,293.22 343.87,293.93"/>
<path d="M351.33,267.80 C350.27,270.02 346.18,277.84 344.93,281.13 C343.69,284.42 343.78,285.76 343.87,287.53 C343.96,289.31 345.20,291.09 345.47,291.80"/>
<path d="M356.13,271.00 L378.00,260.33"/>
<path d="M356.13,271.00 C355.33,272.33 352.40,276.24 351.33,279.00 C350.27,281.76 350.09,284.87 349.73,287.53 C349.38,290.20 349.29,293.76 349.20,295.00"/>
<path d="M366.53,237.40 L368.67,234.73 L371.87,233.67 L375.60,236.33 L375.07,239.00 L371.87,241.13 L368.13,240.60Z M368.67,234.73 L371.65,237.19 L375.60,236.33 M371.65,237.19 L371.87,241.13 M367.87,240.07 L368.40,242.95 L372.67,244.01"/>
<path d="M371.87,243.80 C372.93,243.44 376.31,241.76 378.27,241.67 C380.22,241.58 382.18,242.38 383.60,243.27 C385.02,244.16 386.18,245.67 386.80,247.00 C387.42,248.33 387.51,250.02 387.33,251.27 C387.16,252.51 386.00,253.93 385.73,254.47"/>
<path d="M375.60,236.33 C376.76,236.96 380.58,238.73 382.53,240.07 C384.49,241.40 386.36,243.00 387.33,244.33 C388.31,245.67 388.22,247.44 388.40,248.07"/>
<path d="M380.40,251.80 C382.00,252.69 387.51,255.44 390.00,257.13 C392.49,258.82 393.56,260.07 395.33,261.93 C397.11,263.80 399.42,266.47 400.67,268.33 C401.91,270.20 402.44,272.33 402.80,273.13"/>
<path d="M385.73,253.93 C387.16,254.91 391.78,257.93 394.27,259.80 C396.76,261.67 398.71,263.53 400.67,265.13 C402.62,266.73 404.58,268.16 406.00,269.40 C407.42,270.64 408.67,272.07 409.20,272.60"/>
<path d="M358.00,274.73 L379.33,265.13 L388.93,257.67 M358.00,293.93 L399.07,272.07 M401.20,268.33 L401.20,277.93"/>
<path d="M400.67,279.00 C401.52,278.41 407.17,273.24 409.20,273.13 C411.23,273.03 419.49,277.08 420.93,277.93 C422.37,278.79 423.41,280.60 423.60,281.67 C423.79,282.73 422.93,287.91 422.85,288.60"/>
<path d="M400.67,279.00 L411.33,284.33 L420.93,278.47 M411.33,284.33 L410.80,295.00 M400.67,279.00 L400.45,289.67"/>
<path d="M401.20,289.93 C402.11,290.52 408.29,295.69 410.27,295.80 C412.24,295.91 419.65,291.91 420.93,291.00 C422.21,290.09 422.85,287.69 423.07,286.73"/>
<path d="M395.15,227.49 L427.66,210.12 M392.98,223.43 L425.49,206.06"/>
<path d="M395.15,227.49 C394.76,227.47 393.41,227.76 392.84,227.41 C392.28,227.06 391.74,226.05 391.76,225.39 C391.78,224.72 392.78,223.76 392.98,223.43"/>
<path d="M428.41,211.53 C427.90,211.07 425.95,209.90 425.34,208.75 C424.73,207.60 424.84,205.33 424.74,204.65 L435.76,198.76 M428.41,211.53 L439.44,205.64"/>
<ellipse cx="437.6" cy="202.2" rx="3.9" ry="2.1" transform="rotate(61.9 437.6 202.2)" fill="#fff"/>
<path d="M432.8,209.2 L429.6,206.5 429.2,202.3 M435.3,207.9 L432,205.2 431.6,201 M437.7,206.6 L434.4,203.9 434,199.7" stroke-width="1"/>
<path d="M424.63,246.72 L457.36,229.79 M422.52,242.64 L455.24,225.70"/>
<path d="M424.63,246.72 C424.25,246.71 422.89,246.98 422.33,246.62 C421.77,246.26 421.24,245.24 421.27,244.58 C421.30,243.91 422.31,242.96 422.52,242.64"/>
<path d="M458.09,231.21 C457.59,230.74 455.65,229.54 455.06,228.39 C454.46,227.23 454.60,224.97 454.51,224.28 L465.61,218.54 M458.09,231.21 L469.19,225.46"/>
<ellipse cx="467.4" cy="222.0" rx="3.9" ry="2.1" transform="rotate(62.6 467.4 222.0)" fill="#fff"/>
<path d="M462.5,228.9 L459.3,226.2 459,222 M465,227.7 L461.8,224.9 461.4,220.7 M467.4,226.4 L464.2,223.7 463.8,219.5" stroke-width="1"/>
<path d="M391.60,227.80 L379.87,234.73 M420.93,247.00 L398.53,259.80"/>
<path d="M302.27,278.20 C302.27,278.95 302.16,284.62 302.27,285.67 C302.37,286.71 303.01,288.17 303.33,288.65 C303.65,289.13 304.88,290.18 305.47,290.47 C306.05,290.75 308.61,291.57 309.20,291.53 C309.79,291.50 311.03,290.52 311.33,290.15 C311.63,289.77 312.08,288.65 312.19,287.80 C312.29,286.95 312.38,282.23 312.40,281.61"/>
<path d="M307.07,283.96 C307.17,283.68 307.46,282.27 307.81,281.83 C308.17,281.39 309.05,280.71 309.73,280.65 C310.42,280.60 311.94,280.80 312.93,281.40 C313.93,282.00 316.06,283.85 317.20,285.13 C318.34,286.41 320.33,289.36 321.47,291.00 C322.60,292.64 324.81,295.91 325.73,297.40 C326.66,298.89 327.55,301.06 328.40,302.20 C329.25,303.34 331.28,305.29 332.13,305.93 C332.99,306.57 334.44,306.86 334.80,307.00"/>
<path d="M332.67,304.65 C332.67,303.99 332.54,299.92 332.67,299.00 C332.79,298.08 333.30,297.17 333.73,296.76 C334.17,296.35 335.78,295.48 336.40,295.48 C337.02,295.48 338.63,296.29 339.07,296.76 C339.50,297.23 340.05,298.65 340.13,299.53 C340.22,300.42 340.06,303.56 339.81,304.33 C339.56,305.10 338.52,305.84 338.00,306.15 C337.48,306.46 335.64,306.90 335.33,307.00"/>
<path d="M298.00,303.27 L316.13,293.13 M302.80,301.13 L329.47,316.07 L343.33,308.60"/>
<path d="M335.33,281.40 C335.51,282.47 335.69,285.93 336.40,287.80 C337.11,289.67 338.36,291.27 339.60,292.60 C340.84,293.93 342.71,295.27 343.87,295.80 C345.02,296.33 345.82,296.24 346.53,295.80 C347.24,295.36 347.87,293.58 348.13,293.13"/>
<path d="M349.20,288.87 C349.29,290.11 349.38,293.84 349.73,296.33 C350.09,298.82 350.62,301.31 351.33,303.80 C352.04,306.29 353.11,308.78 354.00,311.27 C354.89,313.76 355.78,317.31 356.67,318.73 C357.56,320.16 358.09,320.07 359.33,319.80 C360.58,319.53 363.16,318.20 364.13,317.13 C365.11,316.07 365.29,315.09 365.20,313.40 C365.11,311.71 364.13,309.13 363.60,307.00 C363.07,304.87 362.09,302.11 362.00,300.60 C361.91,299.09 362.89,298.38 363.07,297.93"/>
<path d="M340.13,297.93 C340.93,298.38 343.42,299.27 344.93,300.60 C346.44,301.93 347.96,303.98 349.20,305.93 C350.44,307.89 351.33,310.29 352.40,312.33 C353.47,314.38 355.07,317.22 355.60,318.20"/>
<path d="M359.33,278.20 L359.33,308.07 M360.93,293.67 L378.00,284.07 M362.00,300.07 L378.00,292.07"/>
<path d="M362.27,300.07 C364.27,298.73 384.98,285.40 386.80,285.67 C388.62,285.93 384.67,301.49 384.13,303.27 C383.60,305.04 381.24,306.51 380.40,307.00 C379.56,307.49 375.02,309.13 374.00,309.13 C372.98,309.13 369.07,307.62 368.13,307.00 C367.20,306.38 363.29,302.24 362.80,301.67 C362.31,301.09 360.27,301.40 362.27,300.07Z"/>
<path d="M362.80,300.07 C363.60,300.78 365.73,303.36 367.60,304.33 C369.47,305.31 372.04,306.02 374.00,305.93 C375.96,305.84 378.09,305.13 379.33,303.80 C380.58,302.47 381.20,299.89 381.47,297.93 C381.73,295.98 381.02,293.04 380.93,292.07"/>
<path d="M366.00,298.47 C366.62,299.00 368.22,300.92 369.73,301.67 C371.24,302.41 373.47,303.12 375.07,302.95 C376.67,302.77 378.62,300.99 379.33,300.60"/>
<path d="M383.60,306.15 C384.84,305.49 388.76,303.84 391.07,302.20 C393.38,300.56 395.87,298.29 397.47,296.33 C399.07,294.38 400.13,291.44 400.67,290.47"/>
<path d="M407.9,338.8 L409,338.6 410.3,339.1 411.6,340.1 412.7,341.6 413.4,343.3 413.7,344.9 413.4,346.2 412.7,347.1 403.6,352.3 402.5,352.6 401.2,352.1 399.9,351.1 398.8,349.6 398.1,347.9 397.8,346.3 398.1,344.9 398.8,344.1Z" fill="#fff" />
<path d="M404.58,350.15 C404.58,352.30 403.07,353.18 401.20,352.10 C399.33,351.02 397.82,348.40 397.82,346.25 C397.82,344.10 399.33,343.22 401.20,344.30 C403.07,345.38 404.58,348.00 404.58,350.15Z" fill="#fff" />
<path d="M402.93,349.20 C402.93,350.30 402.16,350.75 401.20,350.20 C400.24,349.65 399.47,348.30 399.47,347.20 C399.47,346.10 400.24,345.65 401.20,346.20 C402.16,346.75 402.93,348.10 402.93,349.20Z" stroke-width="1.3" />
<path d="M408.6,336.1 L410.1,335.8 412,336.4 413.8,337.9 415.4,340 416.5,342.4 416.8,344.8 416.5,346.7 415.4,347.9 414,348.7 412.5,349.1 410.6,348.4 408.7,346.9 407.2,344.8 406.1,342.4 405.8,340 406.1,338.1 407.2,336.9Z" fill="#fff" />
<path d="M415.45,345.60 C415.45,348.69 413.28,349.95 410.60,348.40 C407.92,346.85 405.75,343.09 405.75,340.00 C405.75,336.91 407.92,335.65 410.60,337.20 C413.28,338.75 415.45,342.51 415.45,345.60Z" fill="#fff" />
<path d="M421.47,336.33 L432.67,329.93"/></g>
<g stroke-width="1.05" fill="none"><path d="M208.7,338.7 L210.8,338.1 213.3,338.3 215.9,339.5 218.5,341.4 220.9,343.9 223,347 224.7,350.4 225.7,353.8 226,357 225.7,359.8 224.7,362.1 223,363.6 202.9,375.2 200.8,375.9 198.3,375.6 195.7,374.5 193.1,372.6 190.6,370 188.5,366.9 186.9,363.6 185.9,360.2 185.6,357 185.9,354.1 186.9,351.9 188.5,350.4Z" fill="#fff" />
<path d="M205.83,368.65 C205.83,375.11 201.30,377.73 195.70,374.50 C190.10,371.27 185.57,363.41 185.57,356.95 C185.57,350.49 190.10,347.87 195.70,351.10 C201.30,354.33 205.83,362.19 205.83,368.65Z" fill="#fff" />
<path d="M204.61,367.30 C204.61,372.60 200.89,374.75 196.30,372.10 C191.71,369.45 187.99,363.00 187.99,357.70 C187.99,352.40 191.71,350.25 196.30,352.90 C200.89,355.55 204.61,362.00 204.61,367.30Z" />
<path d="M236.8,319.4 L239.4,318.6 242.4,318.9 245.6,320.3 248.9,322.7 251.9,325.9 254.5,329.7 256.5,333.8 257.8,338.1 258.2,342.1 257.8,345.6 256.5,348.3 254.5,350.2 252.1,351.6 249.5,352.4 246.5,352.1 243.2,350.7 240,348.3 236.9,345.1 234.3,341.3 232.3,337.2 231.1,333 230.6,329 231.1,325.4 232.3,322.7 234.3,320.8Z" fill="#fff" />
<path d="M255.76,343.45 C255.76,351.46 250.14,354.70 243.20,350.70 C236.26,346.70 230.64,336.96 230.64,328.95 C230.64,320.94 236.26,317.70 243.20,321.70 C250.14,325.70 255.76,335.44 255.76,343.45Z" fill="#fff" />
<path d="M254.25,342.15 C254.25,348.94 249.48,351.70 243.60,348.30 C237.72,344.90 232.95,336.64 232.95,329.85 C232.95,323.06 237.72,320.30 243.60,323.70 C249.48,327.10 254.25,335.36 254.25,342.15Z" />
<path d="M272.8,297.8 L275.5,296.9 278.7,297.2 282.1,298.7 285.6,301.2 288.8,304.6 291.5,308.6 293.6,313 294.9,317.4 295.4,321.7 294.9,325.4 293.6,328.3 291.5,330.2 287.2,332.7 284.4,333.6 281.2,333.3 277.8,331.8 274.4,329.3 271.2,325.9 268.4,321.9 266.3,317.5 265,313.1 264.6,308.9 265,305.2 266.3,302.2 268.4,300.3Z" fill="#fff" />
<path d="M291.05,324.15 C291.05,332.60 285.12,336.02 277.80,331.80 C270.48,327.58 264.55,317.30 264.55,308.85 C264.55,300.40 270.48,296.98 277.80,301.20 C285.12,305.42 291.05,315.70 291.05,324.15Z" fill="#fff" />
<path d="M289.29,322.70 C289.29,329.77 284.32,332.63 278.20,329.10 C272.08,325.57 267.11,316.97 267.11,309.90 C267.11,302.83 272.08,299.97 278.20,303.50 C284.32,307.03 289.29,315.63 289.29,322.70Z" />
<path d="M278.2,323.8 L275.9,321.2 273.9,318.1 272.4,314.9 271.4,311.5 270.9,308.4 271.1,305.5 271.8,303.1 273.1,301.2 274.9,300.1 277,299.7 279.4,300.1 282,301.2" stroke-width="0.9" />
<path d="M225.60,345.20 L244.20,335.20 M259.50,325.70 L277.80,315.50 M296.00,305.20 L302.00,301.80" />
<path d="M307.07,171.73 C307.38,171.29 310.71,169.11 311.33,169.07 C311.96,169.02 314.22,170.76 314.53,171.20 C314.84,171.64 314.71,174.04 315.07,174.40 C315.42,174.76 318.31,175.11 318.80,175.47 C319.29,175.82 320.80,178.13 320.93,178.67 C321.07,179.20 320.04,180.84 320.40,181.87 C320.76,182.89 324.76,189.87 325.20,190.93 C325.64,192.00 325.87,194.22 325.73,194.67 C325.60,195.11 324.00,196.31 323.60,196.27 C323.20,196.22 321.56,194.58 320.93,194.13 C320.31,193.69 316.80,191.78 316.13,190.93 C315.47,190.09 313.47,184.67 312.93,184.00 C312.40,183.33 310.13,183.29 309.73,182.93 C309.33,182.58 308.18,180.27 308.13,179.73 C308.09,179.20 309.24,176.98 309.20,176.53 C309.16,176.09 307.78,174.80 307.60,174.40 C307.42,174.00 306.76,172.18 307.07,171.73Z" fill="#fff"/>
<path d="M312.93,184.00 L320.40,181.33 M314.00,186.67 L322.00,184.00 M315.60,189.33 L323.60,186.67 M317.20,192.00 L324.67,189.33 M309.20,176.53 L315.07,174.40 M307.60,173.33 L314.32,171.95" stroke-width="0.9" />
<ellipse cx="311.0" cy="170.7" rx="3.2" ry="1.6" transform="rotate(-20 311.0 170.7)" stroke-width="0.9"/>
<path d="M322.53,206.40 C322.67,206.04 323.64,205.02 325.20,203.73 C326.76,202.44 339.51,192.18 341.20,190.93 C342.89,189.69 344.89,188.98 345.47,188.80 C346.04,188.62 347.78,188.58 348.13,188.80 C348.49,189.02 349.51,190.93 349.73,191.47 C349.96,192.00 350.98,194.58 350.80,195.20 C350.62,195.82 348.13,198.53 347.60,198.93 C347.07,199.33 344.84,200.09 344.40,200.00 C343.96,199.91 342.53,198.22 342.27,197.87 C342.00,197.51 342.00,195.33 341.20,195.73 C340.40,196.13 333.91,201.69 332.67,202.67 C331.42,203.64 327.02,207.02 326.27,207.47 C325.51,207.91 323.91,208.09 323.60,208.00 C323.29,207.91 322.40,206.76 322.53,206.40Z" fill="#fff"/>
<path d="M324.67,206.08 L342.27,192.53" stroke-width="0.9" />
<path d="M341.20,192.00 C341.64,191.68 342.89,190.44 343.87,190.08 C344.84,189.72 346.30,189.55 347.07,189.87 C347.83,190.19 348.54,191.32 348.45,192.00 C348.36,192.68 347.39,193.53 346.53,193.92 C345.68,194.31 344.22,194.67 343.33,194.35 C342.44,194.03 341.56,192.39 341.20,192.00" stroke-width="0.9"/>
<path d="M331.60,209.60 L338.00,219.73 M335.30,215.00 L342.30,227.80" />
<path d="M457.67,326.33 C457.84,325.98 458.82,324.73 459.00,323.67 C459.18,322.60 459.27,319.76 459.00,318.33 C458.73,316.91 457.89,314.16 457.00,313.00 C456.11,311.84 453.67,309.93 452.33,309.67 C451.00,309.40 448.24,310.29 447.00,311.00 C445.76,311.71 443.80,313.84 443.00,315.00 C442.20,316.16 441.71,318.33 441.00,319.67 C440.29,321.00 438.64,323.67 437.67,325.00 C436.69,326.33 434.29,328.33 433.67,329.67 C433.04,331.00 432.73,333.58 433.00,335.00 C433.27,336.42 434.42,338.56 435.67,340.33 C436.91,342.11 440.21,346.14 442.33,348.33 C444.46,350.53 448.62,353.68 451.60,356.80 C454.58,359.92 462.18,368.50 464.67,371.73 C467.16,374.97 469.02,379.20 470.27,381.07 C471.51,382.93 472.51,385.11 474.00,385.73 C475.50,386.36 478.73,386.23 481.47,385.73 C484.21,385.24 492.05,382.87 494.54,382.00 C497.03,381.13 499.14,380.20 500.14,379.20 C501.13,378.21 502.13,375.90 502.00,374.53 C501.88,373.17 500.32,370.05 499.20,368.93 C498.08,367.81 494.35,366.51 493.60,366.13"/>
<path d="M461.00,343.67 C461.36,344.47 462.42,347.62 463.67,349.67 C464.91,351.71 468.20,356.87 470.33,359.00 C472.47,361.13 477.18,364.51 479.67,365.67 C482.16,366.82 487.76,367.36 489.00,367.67 C489.55,367.80 492.98,366.38 493.60,366.13"/>
<path d="M465.00,342.33 C465.53,343.49 467.58,348.78 469.00,351.00 C470.42,353.22 473.71,357.22 475.67,359.00 C477.62,360.78 481.53,363.44 483.67,364.33 C485.80,365.22 490.59,365.68 491.67,365.67"/>
<path d="M455.67,333.40 L455.67,327.67 L460.33,325.00 L465.00,328.33 L465.00,339.00 L464.33,342.33 L461.00,343.67 L458.33,343.00" />
<path d="M457.00,333.00 C456.71,333.17 454.40,334.00 454.07,334.73 C453.73,335.47 453.37,339.44 453.67,340.33 C453.96,341.23 456.47,343.40 457.00,343.67 C457.53,343.93 458.80,343.07 459.00,343.00"/>
<ellipse cx="447.7" cy="319.7" rx="3.7" ry="4.7" transform="rotate(-20 447.7 319.7)"/>
<ellipse cx="448.7" cy="320.7" rx="2.6" ry="3.4" transform="rotate(-20 448.7 320.7)"/>
<ellipse cx="441.0" cy="335.7" rx="2.6" ry="3.3" transform="rotate(-20 441.0 335.7)"/>
<ellipse cx="460.7" cy="357.0" rx="2.6" ry="5.7" transform="rotate(-33 460.7 357.0)"/>
<path d="M490.80,367.07 C491.89,367.53 495.78,368.31 497.34,369.87 C498.89,371.42 500.14,374.38 500.14,376.40 C500.14,378.42 497.80,381.07 497.34,382.00"/>
<ellipse cx="474.9" cy="376.4" rx="2.4" ry="3.3" transform="rotate(-20 474.9 376.4)"/>
<ellipse cx="490.8" cy="375.5" rx="2.8" ry="4.0" transform="rotate(-20 490.8 375.5)"/>
<path d="M462.30,312.30 L497.50,292.80 M462.30,323.70 L484.50,311.20 M476.30,317.00 L509.70,357.30 L493.60,366.10 M421.70,336.70 L450.30,320.30 M503.90,368.90 L521.60,358.70" />
<ellipse cx="526.4" cy="356.6" rx="2.7" ry="4.3" transform="rotate(-25 526.4 356.6)" stroke-width="1.4"/>
<path d="M400.27,368.93 C401.15,368.37 416.79,359.01 418.00,358.67 C419.21,358.32 424.44,361.70 424.53,362.03 C424.63,362.35 419.96,364.76 419.87,365.20 C419.77,365.64 422.20,370.66 422.67,370.80 C423.13,370.94 428.83,367.91 429.20,368.00 C429.57,368.09 429.85,372.25 430.13,372.67 C430.41,373.09 434.33,376.31 434.80,376.40 C435.27,376.49 438.72,374.58 439.47,374.53 C440.21,374.49 448.94,375.19 449.73,375.47 C450.53,375.75 455.80,379.39 455.34,380.13 C454.87,380.88 441.38,389.93 440.40,390.40 C439.42,390.87 436.25,389.75 435.73,389.47 C435.22,389.19 430.65,384.99 430.13,384.80 C429.62,384.61 426.26,385.97 425.47,385.73 C424.67,385.50 415.01,380.74 414.27,380.13 C413.52,379.53 411.23,374.11 410.53,373.60 C409.83,373.09 400.78,370.10 400.27,369.87 C399.75,369.63 399.38,369.49 400.27,368.93Z" fill="#fff"/>
<path d="M406.80,367.07 C407.73,367.53 410.53,368.47 412.40,369.87 C414.27,371.27 416.45,373.76 418.00,375.47 C419.56,377.18 421.11,379.36 421.73,380.13 M430.13,384.80 L434.80,382.00 L446.00,375.47 M434.80,382.00 L435.73,389.47 M424.53,370.80 L426.40,375.47 L431.07,377.33" stroke-width="0.9"/>
<path d="M509.80,281.40 L530.60,269.40 M514.60,290.20 L535.40,277.40" />
<ellipse cx="533.0" cy="273.4" rx="2.0" ry="4.4" transform="rotate(-28 533.0 273.4)" fill="#fff"/>
<path d="M501.80,283.00 L506.60,280.60 L512.20,282.20 L514.12,287.80 L511.40,292.60 L505.00,293.40 L501.00,289.40Z" fill="#fff" />
<path d="M506.60,280.60 L508.20,287.00 L505.00,293.40 M508.20,287.00 L514.12,287.80" stroke-width="0.9" />
<path d="M497.00,289.40 L501.80,286.20 L503.88,291.00 L499.40,294.52 L497.00,292.28Z" fill="#fff" />
<path d="M547.08,339.00 L564.00,329.24 M551.88,347.80 L568.80,337.24" />
<ellipse cx="566.4" cy="333.2" rx="2.0" ry="4.4" transform="rotate(-28 566.4 333.2)" fill="#fff"/>
<path d="M539.08,340.60 L543.88,338.20 L549.48,339.80 L551.40,345.40 L548.68,350.20 L542.28,351.00 L538.28,347.00Z" fill="#fff" />
<path d="M543.88,338.20 L545.48,344.60 L542.28,351.00 M545.48,344.60 L551.40,345.40" stroke-width="0.9" />
<path d="M534.28,347.00 L539.08,343.80 L541.16,348.60 L536.68,352.12 L534.28,349.88Z" fill="#fff" />
<path d="M497.00,292.80 L485.00,299.50 M538.60,268.60 L552.20,260.60 M568.20,331.80 L573.80,328.60" />
<ellipse cx="560.2" cy="255.3" rx="8.6" ry="9.4" transform="rotate(-25 560.2 255.3)" fill="#fff"/>
<path d="M561.80,246.52 C562.41,247.27 564.73,249.32 565.48,251.00 C566.23,252.68 566.57,254.52 566.28,256.60 C565.99,258.68 564.15,262.33 563.72,263.48" stroke-width="0.9"/>
<ellipse cx="557.0" cy="256.6" rx="4.8" ry="5.6" transform="rotate(-25 557.0 256.6)"/>
<ellipse cx="556.2" cy="257.4" rx="2.9" ry="3.3" transform="rotate(-25 556.2 257.4)" stroke-width="1.2"/>
<path d="M584.20,320.60 C584.84,319.75 587.51,315.48 589.00,314.20 C590.49,312.92 593.91,311.21 595.40,311.00 C596.89,310.79 599.35,311.85 600.20,312.60 C601.05,313.35 601.91,315.43 601.80,316.60 C601.69,317.77 600.47,320.33 599.40,321.40 C598.33,322.47 595.40,323.85 593.80,324.60 C592.20,325.35 588.25,326.68 587.40,327.00" fill="#fff"/>
<path d="M595.40,311.32 C595.80,312.07 597.67,313.80 597.80,315.80 C597.93,317.80 596.47,322.07 596.20,323.32" stroke-width="0.9"/>
<ellipse cx="579.4" cy="325.4" rx="7.0" ry="8.8" transform="rotate(-25 579.4 325.4)" fill="#fff"/>
<ellipse cx="578.3" cy="326.0" rx="6.0" ry="7.8" transform="rotate(-25 578.3 326.0)" stroke-width="0.8"/>
<ellipse cx="577.0" cy="327.0" rx="2.4" ry="3.2" transform="rotate(-25 577.0 327.0)" stroke-width="1.6"/>
<path d="M476.7,682.7 L478.3,682.2 480.2,682.3 482.2,683.2 484.2,684.7 486.1,686.7 487.7,689 489,691.6 489.7,694.2 490,696.7 489.7,698.9 489,700.6 487.7,701.8 486.5,702.5 484.9,702.9 483,702.8 481,701.9 479,700.4 477.1,698.4 475.5,696.1 474.2,693.5 473.5,690.9 473.2,688.4 473.5,686.2 474.2,684.5 475.5,683.4Z" fill="#fff" />
<path d="M488.78,697.40 C488.78,702.37 485.29,704.39 480.99,701.90 C476.68,699.41 473.19,693.37 473.19,688.40 C473.19,683.43 476.68,681.41 480.99,683.90 C485.29,686.39 488.78,692.43 488.78,697.40Z" fill="#fff" />
<path d="M478.6,688.8 L479.6,688.6 480.8,689 482,690 483,691.3 483.7,692.9 483.9,694.4 483.7,695.6 483,696.4 459.8,709.8 458.8,710 457.6,709.6 456.4,708.6 455.4,707.3 454.7,705.7 454.5,704.2 454.7,703 455.4,702.2Z" fill="#fff" />
<path d="M460.72,707.80 C460.72,709.79 459.32,710.59 457.60,709.60 C455.88,708.61 454.48,706.19 454.48,704.20 C454.48,702.21 455.88,701.41 457.60,702.40 C459.32,703.39 460.72,705.81 460.72,707.80Z" fill="#fff" />
<path d="M462,708.6 L460.6,708.7 459,707.8 457.6,706 456.8,703.9 456.8,702.1 457.6,700.9 M464.1,707.3 L462.7,707.4 461.1,706.5 459.7,704.8 458.9,702.7 458.9,700.8 459.7,699.7 M466.3,706.1 L464.9,706.2 463.3,705.3 461.9,703.5 461.1,701.4 461.1,699.6 461.9,698.4 M468.5,704.8 L467.1,704.9 465.5,704 464.1,702.3 463.3,700.2 463.3,698.3 464.1,697.2 M470.6,703.6 L469.2,703.7 467.6,702.8 466.2,701 465.4,698.9 465.4,697.1 466.2,695.9 M472.8,702.3 L471.4,702.4 469.8,701.5 468.4,699.8 467.6,697.7 467.6,695.8 468.4,694.7 M475,701.1 L473.6,701.2 472,700.3 470.6,698.5 469.7,696.4 469.7,694.6 470.6,693.4" stroke-width="1.1" />
<path d="M632.2,504.4 L633.3,504.1 634.5,504.2 635.8,504.8 637.2,505.8 638.4,507.1 639.5,508.6 640.3,510.3 640.8,512 641,513.7 640.8,515.1 640.3,516.2 639.5,517 635.1,519.5 634.1,519.8 632.8,519.7 631.5,519.1 630.2,518.2 628.9,516.9 627.9,515.3 627.1,513.6 626.6,511.9 626.4,510.2 626.6,508.8 627.1,507.7 627.9,506.9Z" fill="#fff" />
<path d="M627,505.4 L628.3,504.9 629.8,505.1 631.5,505.8 633.2,507 634.7,508.6 636,510.6 637.1,512.7 637.7,514.9 637.9,516.9 637.7,518.7 637.1,520.1 636,521.1 634.8,521.8 633.5,522.2 632,522 630.3,521.3 628.6,520.1 627.1,518.5 625.8,516.5 624.7,514.4 624.1,512.2 623.9,510.2 624.1,508.4 624.7,507 625.8,506.1Z" fill="#fff" />
<path d="M636.70,517.60 C636.70,521.69 633.83,523.34 630.29,521.30 C626.75,519.26 623.88,514.29 623.88,510.20 C623.88,506.11 626.75,504.46 630.29,506.50 C633.83,508.54 636.70,513.51 636.70,517.60Z" fill="#fff" />
<path d="M628.2,510.3 L629.2,510.1 630.4,510.5 631.6,511.4 632.6,512.8 633.3,514.4 633.5,515.9 633.3,517.1 632.6,517.9 607.1,532.6 606.1,532.8 604.9,532.4 603.7,531.4 602.7,530.1 602,528.5 601.8,527 602,525.8 602.7,525Z" fill="#fff" />
<path d="M608.02,530.60 C608.02,532.59 606.62,533.39 604.90,532.40 C603.18,531.41 601.78,528.99 601.78,527.00 C601.78,525.01 603.18,524.21 604.90,525.20 C606.62,526.19 608.02,528.61 608.02,530.60Z" fill="#fff" />
<path d="M609.7,531.1 L608.3,531.2 606.7,530.3 605.3,528.6 604.5,526.5 604.5,524.6 605.3,523.5 M612.3,529.6 L610.9,529.7 609.3,528.8 607.9,527.1 607.1,525 607.1,523.1 607.9,522 M614.9,528.1 L613.5,528.2 611.9,527.3 610.5,525.6 609.7,523.5 609.7,521.6 610.5,520.5 M617.5,526.6 L616.1,526.7 614.5,525.8 613.1,524.1 612.3,522 612.3,520.1 613.1,519" stroke-width="1.1" /></g>
<path d="M443.3,656.0 L443.3,714.0 L454.7,708.0" fill="none" stroke-width="1.1" />
<g stroke-width="1.05" fill="none"><path d="M189.60,422.73 C189.67,422.21 192.30,419.28 192.80,419.11 C193.30,418.94 196.50,419.65 197.07,420.17 C197.64,420.70 200.91,425.98 201.33,427.00 C201.76,428.02 203.04,434.61 203.47,435.53 C203.89,436.46 207.02,440.37 207.73,440.87 C208.44,441.36 213.64,443.28 214.13,443.00 C214.63,442.72 214.92,437.31 215.20,436.60 C215.48,435.89 217.90,432.62 218.40,432.33 C218.90,432.05 222.17,432.05 222.67,432.33 C223.16,432.62 225.51,435.75 225.87,436.60 C226.22,437.45 227.64,444.35 228.00,445.13 C228.36,445.92 230.13,447.62 231.20,448.33 C232.27,449.04 243.00,455.52 244.00,455.80 C245.00,456.08 245.78,452.96 246.13,452.60 C246.49,452.24 248.84,450.58 249.33,450.47 C249.83,450.35 253.10,450.54 253.60,450.89 C254.10,451.25 256.44,454.83 256.80,455.80 C257.16,456.77 258.44,464.40 258.93,465.40 C259.43,466.40 263.56,469.88 264.27,470.73 C264.98,471.59 269.17,477.28 269.60,478.20 C270.03,479.12 270.88,483.89 270.67,484.60 C270.45,485.31 267.47,488.44 266.40,488.87 C265.33,489.29 256.16,491.14 254.67,491.00 C253.17,490.86 245.71,487.66 244.00,486.73 C242.29,485.81 231.06,478.41 229.07,477.13 C227.08,475.85 216.05,469.17 214.13,467.53 C212.21,465.90 201.83,454.38 200.27,452.60 C198.70,450.82 191.38,441.93 190.67,440.87 C189.96,439.80 189.24,436.96 189.60,436.60 C189.96,436.24 195.57,436.03 196.00,435.53 C196.43,435.04 196.28,429.70 196.00,429.13 C195.72,428.56 192.16,427.43 191.73,427.00 C191.31,426.57 189.53,423.26 189.60,422.73Z" fill="#fff"/>
<path d="M258.93,466.47 C260.36,468.00 265.87,472.19 267.47,475.64 C269.07,479.09 268.36,485.24 268.53,487.16 M229.49,446.63 L244,454.31" stroke-width="0.9"/>
<ellipse cx="219.5" cy="440.2" rx="1.7" ry="2.1" transform="rotate(-20 219.5 440.2)"/>
<ellipse cx="251.0" cy="457.9" rx="1.7" ry="2.1" transform="rotate(-20 251.0 457.9)"/>
<ellipse cx="222.7" cy="459.6" rx="1.7" ry="2.1" transform="rotate(-20 222.7 459.6)"/>
<ellipse cx="248.3" cy="475.0" rx="1.7" ry="2.1" transform="rotate(-20 248.3 475.0)"/>
<path d="M255.73,415.27 C256.52,414.81 264.62,412.28 265.33,411.64 C266.04,411.00 266.12,406.28 266.40,405.67 C266.68,405.06 269.10,402.64 269.60,402.47 C270.10,402.30 273.37,402.82 273.87,403.11 C274.36,403.39 276.71,405.92 277.07,406.73 C277.42,407.54 278.84,414.41 279.20,415.27 C279.56,416.12 281.33,418.75 282.40,419.53 C283.47,420.32 294.20,426.72 295.20,427.00 C296.20,427.28 296.98,424.20 297.33,423.80 C297.69,423.40 300.04,421.17 300.53,421.03 C301.03,420.88 304.30,421.27 304.80,421.67 C305.30,422.06 307.72,426.08 308.00,427.00 C308.28,427.92 308.64,434.47 309.07,435.53 C309.49,436.60 313.76,442.08 314.40,443.00 C315.04,443.92 318.38,448.48 318.67,449.40 C318.95,450.32 319.09,456.08 318.67,456.87 C318.24,457.65 313.40,460.78 312.27,461.13 C311.13,461.49 302.88,462.41 301.60,462.20 C300.32,461.99 294.20,458.72 293.07,457.93 C291.93,457.15 286.38,451.39 284.53,450.47 C282.68,449.54 267.04,445.06 265.33,444.07 C263.63,443.07 259.72,436.81 258.93,435.53 C258.15,434.25 253.96,426.00 253.60,424.87 C253.24,423.73 253.46,419.11 253.60,418.47 C253.74,417.83 254.95,415.72 255.73,415.27Z" fill="#fff"/>
<path d="M253.60,419.53 C255.38,419.36 260.71,418.11 264.27,418.47 C267.82,418.82 271.56,420.24 274.93,421.67 C278.31,423.09 282.93,426.11 284.53,427.00 M281.97,427.00 L281.33,448.33 M284.11,428.07 L283.47,450.04" stroke-width="0.95"/>
<path d="M279.20,416.33 C280.09,417.40 281.87,420.60 284.53,422.73 C287.20,424.87 293.42,428.07 295.20,429.13 M310.13,436.60 C311.20,438.20 315.29,442.64 316.53,446.20 C317.78,449.76 317.42,455.98 317.60,457.93 M284.53,427.00 C286.31,427.71 291.29,429.49 295.20,431.27 C299.11,433.04 304.73,435.18 308.00,437.67 C311.27,440.16 313.55,442.64 314.83,446.20 C316.11,449.76 315.54,456.87 315.68,459.00" stroke-width="0.9"/>
<ellipse cx="270.2" cy="410.4" rx="1.7" ry="2.1" transform="rotate(-20 270.2 410.4)"/>
<ellipse cx="302.0" cy="428.5" rx="1.7" ry="2.1" transform="rotate(-20 302.0 428.5)"/></g>
<path d="M318.7,453.0 L334.0,453.0 L334.0,481.4 L271.7,481.4" fill="none" stroke-width="1.1" />
<line x1="334.0" y1="467.5" x2="354.3" y2="467.5" stroke-width="1.1" />
<g opacity="0.095" fill="#000" stroke="none">
<g transform="translate(335,415) scale(0.12232)">
<path fill-rule="evenodd" d="M100,515 L275,515 L335,690 L480,515 L555,515 L325,910 Z M161,598 L330,785 L396,785 L379,815 L312,815 L139,620 Z"/>
<path d="M300,400 C220,395 170,340 178,290 C182,255 200,230 212,215 C215,240 228,255 245,250 C262,200 245,120 238,62 C300,120 360,160 410,230 C450,290 440,360 385,395 C400,360 395,320 375,290 C350,320 340,290 335,255 C300,290 290,330 300,400 Z"/>
</g>
<text x="245.5" y="559" textLength="259" lengthAdjust="spacingAndGlyphs" style="font-family:'Liberation Sans',sans-serif;font-size:21.5px;letter-spacing:3px;stroke:#000;stroke-width:0.6">LEADVENTURE</text>
</g>
</svg>
</body></html>
